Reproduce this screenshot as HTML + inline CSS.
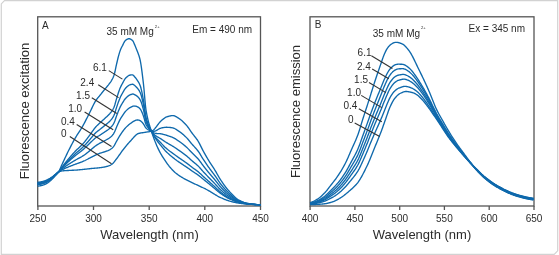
<!DOCTYPE html>
<html><head><meta charset="utf-8"><style>
html,body{margin:0;padding:0;background:#fff;}
body{width:559px;height:255px;overflow:hidden;position:relative;}
svg{position:absolute;left:0;top:0;will-change:transform;}
text{font-family:"Liberation Sans",sans-serif;fill:#2b2b2b;}
</style></head><body>
<svg width="559" height="255" viewBox="0 0 559 255">
<path d="M4.5,0.7 L557.7,0.7 L557.7,250.8 L554.2,254.3 L1.3,254.3 L1.3,3.9 Z" fill="none" stroke="#d2d2d2" stroke-width="1.2"/>
<g fill="none" stroke="#555" stroke-width="1.3">
<rect x="37.7" y="16.8" width="222.8" height="189.2"/>
<rect x="310" y="16.8" width="224" height="189.2"/>
<line x1="37.9" y1="206" x2="37.9" y2="210"/><line x1="93.5" y1="206" x2="93.5" y2="210"/><line x1="149.2" y1="206" x2="149.2" y2="210"/><line x1="204.8" y1="206" x2="204.8" y2="210"/><line x1="260.5" y1="206" x2="260.5" y2="210"/>
<line x1="310.1" y1="206" x2="310.1" y2="210"/><line x1="354.9" y1="206" x2="354.9" y2="210"/><line x1="399.7" y1="206" x2="399.7" y2="210"/><line x1="444.4" y1="206" x2="444.4" y2="210"/><line x1="489.2" y1="206" x2="489.2" y2="210"/><line x1="534.0" y1="206" x2="534.0" y2="210"/>
</g>
<g fill="none" stroke="#0f69ac" stroke-width="1.35" stroke-linejoin="round">
<path d="M37.50,182.30 L38.00,182.26 L38.50,182.21 L39.00,182.14 L39.50,182.07 L40.00,181.99 L40.50,181.90 L41.00,181.80 L41.50,181.70 L42.00,181.60 L42.50,181.49 L43.00,181.36 L43.50,181.21 L44.00,181.05 L44.50,180.89 L45.00,180.71 L45.50,180.52 L46.00,180.32 L46.50,180.11 L47.00,179.90 L47.50,179.68 L48.00,179.43 L48.50,179.17 L49.00,178.89 L49.50,178.60 L50.00,178.30 L50.50,177.98 L51.00,177.66 L51.50,177.33 L52.00,177.00 L52.50,176.65 L53.00,176.28 L53.50,175.89 L54.00,175.49 L54.50,175.09 L55.00,174.69 L55.50,174.30 L56.00,173.89 L56.50,173.46 L57.00,173.03 L57.50,172.63 L58.00,172.27 L58.50,172.00 L59.00,171.78 L59.50,171.58 L60.00,171.39 L60.50,171.23 L61.00,171.09 L61.50,170.98 L62.00,170.90 L62.50,170.84 L63.00,170.80 L63.50,170.75 L64.00,170.71 L64.50,170.68 L65.00,170.65 L65.50,170.62 L66.00,170.60 L66.50,170.57 L67.00,170.54 L67.50,170.52 L68.00,170.49 L68.50,170.46 L69.00,170.43 L69.50,170.41 L70.00,170.39 L70.50,170.36 L71.00,170.34 L71.50,170.32 L72.00,170.29 L72.50,170.27 L73.00,170.25 L73.50,170.22 L74.00,170.20 L74.50,170.17 L75.00,170.14 L75.50,170.11 L76.00,170.08 L76.50,170.05 L77.00,170.01 L77.50,169.97 L78.00,169.93 L78.50,169.88 L79.00,169.84 L79.50,169.79 L80.00,169.75 L80.50,169.70 L81.00,169.65 L81.50,169.60 L82.00,169.55 L82.50,169.50 L83.00,169.45 L83.50,169.40 L84.00,169.35 L84.50,169.29 L85.00,169.24 L85.50,169.18 L86.00,169.12 L86.50,169.06 L87.00,169.00 L87.50,168.94 L88.00,168.88 L88.50,168.82 L89.00,168.76 L89.50,168.71 L90.00,168.65 L90.50,168.59 L91.00,168.54 L91.50,168.49 L92.00,168.44 L92.50,168.40 L93.00,168.35 L93.50,168.31 L94.00,168.27 L94.50,168.23 L95.00,168.19 L95.50,168.15 L96.00,168.11 L96.50,168.07 L97.00,168.03 L97.50,167.98 L98.00,167.93 L98.50,167.88 L99.00,167.82 L99.50,167.76 L100.00,167.70 L100.50,167.64 L101.00,167.57 L101.50,167.50 L102.00,167.42 L102.50,167.34 L103.00,167.26 L103.50,167.17 L104.00,167.08 L104.50,166.98 L105.00,166.87 L105.50,166.77 L106.00,166.65 L106.50,166.53 L107.00,166.40 L107.50,166.26 L108.00,166.10 L108.50,165.93 L109.00,165.74 L109.50,165.53 L110.00,165.30 L110.50,165.05 L111.00,164.78 L111.50,164.49 L112.00,164.16 L112.50,163.76 L113.00,163.28 L113.50,162.73 L114.00,162.13 L114.50,161.49 L115.00,160.83 L115.50,160.17 L116.00,159.51 L116.50,158.87 L117.00,158.23 L117.50,157.57 L118.00,156.88 L118.50,156.18 L119.00,155.47 L119.50,154.75 L120.00,154.03 L120.50,153.31 L121.00,152.60 L121.50,151.89 L122.00,151.20 L122.50,150.52 L123.00,149.86 L123.50,149.22 L124.00,148.58 L124.50,147.96 L125.00,147.33 L125.50,146.71 L126.00,146.10 L126.50,145.50 L127.00,144.90 L127.50,144.31 L128.00,143.73 L128.50,143.16 L129.00,142.60 L129.50,142.06 L130.00,141.52 L130.50,140.99 L131.00,140.44 L131.50,139.88 L132.00,139.31 L132.50,138.73 L133.00,138.15 L133.50,137.57 L134.00,137.01 L134.50,136.47 L135.00,135.95 L135.50,135.46 L136.00,135.01 L136.50,134.60 L137.00,134.24 L137.50,133.93 L138.00,133.68 L138.50,133.50 L139.00,133.36 L139.50,133.24 L140.00,133.13 L140.50,133.03 L141.00,132.94 L141.50,132.86 L142.00,132.78 L142.50,132.71 L143.00,132.64 L143.50,132.57 L144.00,132.49 L144.50,132.42 L145.00,132.33 L145.50,132.25 L146.00,132.17 L146.50,132.09 L147.00,132.02 L147.50,131.95 L148.00,131.88 L148.50,131.80 L149.00,131.72 L149.50,131.64 L150.00,131.54 L150.50,131.43 L151.00,131.31 L151.50,131.17 L152.00,130.97 L152.50,130.69 L153.00,130.34 L153.50,129.93 L154.00,129.46 L154.50,128.94 L155.00,128.38 L155.50,127.78 L156.00,127.16 L156.50,126.51 L157.00,125.85 L157.50,125.18 L158.00,124.51 L158.50,123.85 L159.00,123.20 L159.50,122.58 L160.00,121.98 L160.50,121.41 L161.00,120.89 L161.50,120.42 L162.00,120.00 L162.50,119.61 L163.00,119.22 L163.50,118.84 L164.00,118.46 L164.50,118.11 L165.00,117.78 L165.50,117.47 L166.00,117.21 L166.50,116.98 L167.00,116.80 L167.50,116.65 L168.00,116.50 L168.50,116.35 L169.00,116.21 L169.50,116.09 L170.00,115.97 L170.50,115.86 L171.00,115.77 L171.50,115.70 L172.00,115.65 L172.50,115.61 L173.00,115.60 L173.50,115.63 L174.00,115.73 L174.50,115.88 L175.00,116.07 L175.50,116.31 L176.00,116.58 L176.50,116.88 L177.00,117.19 L177.50,117.52 L178.00,117.85 L178.50,118.18 L179.00,118.50 L179.50,118.82 L180.00,119.17 L180.50,119.54 L181.00,119.94 L181.50,120.35 L182.00,120.78 L182.50,121.23 L183.00,121.70 L183.50,122.18 L184.00,122.67 L184.50,123.18 L185.00,123.71 L185.50,124.24 L186.00,124.78 L186.50,125.34 L187.00,125.94 L187.50,126.58 L188.00,127.25 L188.50,127.95 L189.00,128.67 L189.50,129.40 L190.00,130.13 L190.50,130.87 L191.00,131.60 L191.50,132.31 L192.00,133.00 L192.50,133.67 L193.00,134.32 L193.50,134.95 L194.00,135.58 L194.50,136.21 L195.00,136.84 L195.50,137.48 L196.00,138.13 L196.50,138.80 L197.00,139.50 L197.50,140.23 L198.00,141.00 L198.50,141.82 L199.00,142.70 L199.50,143.63 L200.00,144.59 L200.50,145.58 L201.00,146.59 L201.50,147.60 L202.00,148.61 L202.50,149.60 L203.00,150.57 L203.50,151.50 L204.00,152.40 L204.50,153.30 L205.00,154.19 L205.50,155.07 L206.00,155.94 L206.50,156.80 L207.00,157.66 L207.50,158.51 L208.00,159.35 L208.50,160.18 L209.00,161.00 L209.50,161.81 L210.00,162.60 L210.50,163.38 L211.00,164.14 L211.50,164.90 L212.00,165.66 L212.50,166.42 L213.00,167.17 L213.50,167.94 L214.00,168.71 L214.50,169.50 L215.00,170.30 L215.50,171.13 L216.00,171.97 L216.50,172.84 L217.00,173.72 L217.50,174.61 L218.00,175.50 L218.50,176.38 L219.00,177.25 L219.50,178.10 L220.00,178.93 L220.50,179.74 L221.00,180.50 L221.50,181.24 L222.00,181.97 L222.50,182.70 L223.00,183.42 L223.50,184.12 L224.00,184.82 L224.50,185.50 L225.00,186.17 L225.50,186.84 L226.00,187.48 L226.50,188.12 L227.00,188.74 L227.50,189.34 L228.00,189.93 L228.50,190.51 L229.00,191.07 L229.50,191.61 L230.00,192.14 L230.50,192.68 L231.00,193.21 L231.50,193.74 L232.00,194.27 L232.50,194.79 L233.00,195.30 L233.50,195.80 L234.00,196.29 L234.50,196.77 L235.00,197.23 L235.50,197.67 L236.00,198.10 L236.50,198.51 L237.00,198.89 L237.50,199.26 L238.00,199.60 L238.50,199.91 L239.00,200.19 L239.50,200.45 L240.00,200.70 L240.50,200.94 L241.00,201.17 L241.50,201.40 L242.00,201.61 L242.50,201.81 L243.00,202.01 L243.50,202.19 L244.00,202.37 L244.50,202.53 L245.00,202.68 L245.50,202.83 L246.00,202.96 L246.50,203.09 L247.00,203.20 L247.50,203.31 L248.00,203.41 L248.50,203.50 L249.00,203.60 L249.50,203.69 L250.00,203.77 L250.50,203.85 L251.00,203.93 L251.50,204.00 L252.00,204.07 L252.50,204.13 L253.00,204.20 L253.50,204.25 L254.00,204.31 L254.50,204.36 L255.00,204.41 L255.50,204.46 L256.00,204.50 L256.50,204.54 L257.00,204.59 L257.50,204.63 L258.00,204.66 L258.50,204.70 L259.00,204.73 L259.50,204.75 L260.00,204.78 L260.50,204.80"/>
<path d="M37.50,183.00 L38.00,182.96 L38.50,182.91 L39.00,182.84 L39.50,182.77 L40.00,182.69 L40.50,182.59 L41.00,182.50 L41.50,182.39 L42.00,182.28 L42.50,182.17 L43.00,182.03 L43.50,181.88 L44.00,181.72 L44.50,181.54 L45.00,181.36 L45.50,181.16 L46.00,180.95 L46.50,180.73 L47.00,180.51 L47.50,180.27 L48.00,180.02 L48.50,179.74 L49.00,179.44 L49.50,179.13 L50.00,178.80 L50.50,178.47 L51.00,178.12 L51.50,177.77 L52.00,177.41 L52.50,177.04 L53.00,176.64 L53.50,176.23 L54.00,175.80 L54.50,175.37 L55.00,174.94 L55.50,174.52 L56.00,174.08 L56.50,173.64 L57.00,173.19 L57.50,172.75 L58.00,172.35 L58.50,172.00 L59.00,171.67 L59.50,171.33 L60.00,170.98 L60.50,170.64 L61.00,170.31 L61.50,170.01 L62.00,169.75 L62.50,169.51 L63.00,169.27 L63.50,169.04 L64.00,168.81 L64.50,168.59 L65.00,168.37 L65.50,168.15 L66.00,167.94 L66.50,167.73 L67.00,167.52 L67.50,167.31 L68.00,167.10 L68.50,166.90 L69.00,166.69 L69.50,166.49 L70.00,166.29 L70.50,166.09 L71.00,165.90 L71.50,165.70 L72.00,165.51 L72.50,165.31 L73.00,165.12 L73.50,164.93 L74.00,164.74 L74.50,164.56 L75.00,164.37 L75.50,164.19 L76.00,164.01 L76.50,163.83 L77.00,163.65 L77.50,163.47 L78.00,163.29 L78.50,163.12 L79.00,162.94 L79.50,162.76 L80.00,162.57 L80.50,162.39 L81.00,162.20 L81.50,162.01 L82.00,161.81 L82.50,161.61 L83.00,161.40 L83.50,161.19 L84.00,160.97 L84.50,160.75 L85.00,160.52 L85.50,160.27 L86.00,160.02 L86.50,159.76 L87.00,159.50 L87.50,159.24 L88.00,158.98 L88.50,158.71 L89.00,158.45 L89.50,158.19 L90.00,157.93 L90.50,157.65 L91.00,157.38 L91.50,157.11 L92.00,156.84 L92.50,156.57 L93.00,156.30 L93.50,156.04 L94.00,155.79 L94.50,155.54 L95.00,155.30 L95.50,155.06 L96.00,154.84 L96.50,154.63 L97.00,154.42 L97.50,154.22 L98.00,154.03 L98.50,153.83 L99.00,153.63 L99.50,153.43 L100.00,153.22 L100.50,153.08 L101.00,152.93 L101.50,152.78 L102.00,152.63 L102.50,152.47 L103.00,152.32 L103.50,152.16 L104.00,151.99 L104.50,151.83 L105.00,151.66 L105.50,151.49 L106.00,151.32 L106.50,151.14 L107.00,150.96 L107.50,150.77 L108.00,150.56 L108.50,150.33 L109.00,150.09 L109.50,149.83 L110.00,149.55 L110.50,149.25 L111.00,148.92 L111.50,148.57 L112.00,148.18 L112.50,147.72 L113.00,147.18 L113.50,146.56 L114.00,145.86 L114.50,145.08 L115.00,144.19 L115.50,143.24 L116.00,142.29 L116.50,141.40 L117.00,140.52 L117.50,139.63 L118.00,138.73 L118.50,137.85 L119.00,136.99 L119.50,136.14 L120.00,135.32 L120.50,134.53 L121.00,133.78 L121.50,133.06 L122.00,132.36 L122.50,131.68 L123.00,131.01 L123.50,130.34 L124.00,129.69 L124.50,129.06 L125.00,128.47 L125.50,127.92 L126.00,127.39 L126.50,126.88 L127.00,126.38 L127.50,125.90 L128.00,125.43 L128.50,124.99 L129.00,124.56 L129.50,124.16 L130.00,123.79 L130.50,123.44 L131.00,123.08 L131.50,122.71 L132.00,122.35 L132.50,121.98 L133.00,121.65 L133.50,121.33 L134.00,121.06 L134.50,120.81 L135.00,120.59 L135.50,120.38 L136.00,120.21 L136.50,120.08 L137.00,120.00 L137.50,119.97 L138.00,119.98 L138.50,120.05 L139.00,120.18 L139.50,120.36 L140.00,120.59 L140.50,120.84 L141.00,121.19 L141.50,121.64 L142.00,122.17 L142.50,122.75 L143.00,123.37 L143.50,124.01 L144.00,124.77 L144.50,125.69 L145.00,126.64 L145.50,127.49 L146.00,128.11 L146.50,128.55 L147.00,128.94 L147.50,129.30 L148.00,129.63 L148.50,129.92 L149.00,130.18 L149.50,130.42 L150.00,130.65 L150.50,130.85 L151.00,131.05 L151.50,131.24 L152.00,131.38 L152.50,131.45 L153.00,131.46 L153.50,131.42 L154.00,131.32 L154.50,131.19 L155.00,131.01 L155.50,130.81 L156.00,130.58 L156.50,130.33 L157.00,130.06 L157.50,129.79 L158.00,129.51 L158.50,129.23 L159.00,128.96 L159.50,128.71 L160.00,128.47 L160.50,128.26 L161.00,128.07 L161.50,127.92 L162.00,127.82 L162.50,127.73 L163.00,127.64 L163.50,127.56 L164.00,127.48 L164.50,127.42 L165.00,127.38 L165.50,127.31 L166.00,127.27 L166.50,127.25 L167.00,127.27 L167.50,127.31 L168.00,127.34 L168.50,127.38 L169.00,127.41 L169.50,127.45 L170.00,127.49 L170.50,127.54 L171.00,127.60 L171.50,127.67 L172.00,127.75 L172.50,127.84 L173.00,127.95 L173.50,128.09 L174.00,128.27 L174.50,128.49 L175.00,128.75 L175.50,129.03 L176.00,129.33 L176.50,129.65 L177.00,129.98 L177.50,130.32 L178.00,130.66 L178.50,130.99 L179.00,131.32 L179.50,131.65 L180.00,131.99 L180.50,132.35 L181.00,132.73 L181.50,133.12 L182.00,133.52 L182.50,133.94 L183.00,134.36 L183.50,134.80 L184.00,135.25 L184.50,135.71 L185.00,136.17 L185.50,136.65 L186.00,137.12 L186.50,137.61 L187.00,138.14 L187.50,138.69 L188.00,139.26 L188.50,139.86 L189.00,140.47 L189.50,141.09 L190.00,141.72 L190.50,142.34 L191.00,142.96 L191.50,143.57 L192.00,144.16 L192.50,144.73 L193.00,145.29 L193.50,145.83 L194.00,146.37 L194.50,146.91 L195.00,147.45 L195.50,148.00 L196.00,148.56 L196.50,149.14 L197.00,149.73 L197.50,150.35 L198.00,150.99 L198.50,151.68 L199.00,152.41 L199.50,153.18 L200.00,153.98 L200.50,154.80 L201.00,155.64 L201.50,156.48 L202.00,157.31 L202.50,158.13 L203.00,158.94 L203.50,159.71 L204.00,160.46 L204.50,161.21 L205.00,161.96 L205.50,162.70 L206.00,163.43 L206.50,164.16 L207.00,164.88 L207.50,165.60 L208.00,166.31 L208.50,167.02 L209.00,167.72 L209.50,168.41 L210.00,169.09 L210.50,169.76 L211.00,170.43 L211.50,171.08 L212.00,171.74 L212.50,172.40 L213.00,173.05 L213.50,173.72 L214.00,174.39 L214.50,175.07 L215.00,175.76 L215.50,176.46 L216.00,177.19 L216.50,177.93 L217.00,178.68 L217.50,179.43 L218.00,180.18 L218.50,180.92 L219.00,181.65 L219.50,182.37 L220.00,183.07 L220.50,183.74 L221.00,184.38 L221.50,185.01 L222.00,185.63 L222.50,186.24 L223.00,186.85 L223.50,187.44 L224.00,188.03 L224.50,188.61 L225.00,189.17 L225.50,189.73 L226.00,190.28 L226.50,190.81 L227.00,191.33 L227.50,191.84 L228.00,192.33 L228.50,192.81 L229.00,193.28 L229.50,193.73 L230.00,194.18 L230.50,194.62 L231.00,195.07 L231.50,195.51 L232.00,195.95 L232.50,196.38 L233.00,196.80 L233.50,197.22 L234.00,197.62 L234.50,198.02 L235.00,198.40 L235.50,198.77 L236.00,199.12 L236.50,199.46 L237.00,199.78 L237.50,200.08 L238.00,200.37 L238.50,200.63 L239.00,200.86 L239.50,201.08 L240.00,201.29 L240.50,201.49 L241.00,201.68 L241.50,201.87 L242.00,202.05 L242.50,202.22 L243.00,202.38 L243.50,202.54 L244.00,202.69 L244.50,202.83 L245.00,202.96 L245.50,203.08 L246.00,203.19 L246.50,203.30 L247.00,203.40 L247.50,203.49 L248.00,203.58 L248.50,203.66 L249.00,203.74 L249.50,203.82 L250.00,203.89 L250.50,203.96 L251.00,204.03 L251.50,204.09 L252.00,204.15 L252.50,204.21 L253.00,204.26 L253.50,204.31 L254.00,204.36 L254.50,204.41 L255.00,204.45 L255.50,204.49 L256.00,204.53 L256.50,204.57 L257.00,204.61 L257.50,204.64 L258.00,204.68 L258.50,204.71 L259.00,204.73 L259.50,204.76 L260.00,204.78 L260.50,204.80"/>
<path d="M37.50,183.51 L38.00,183.47 L38.50,183.42 L39.00,183.35 L39.50,183.27 L40.00,183.19 L40.50,183.09 L41.00,182.99 L41.50,182.89 L42.00,182.78 L42.50,182.66 L43.00,182.52 L43.50,182.37 L44.00,182.20 L44.50,182.02 L45.00,181.82 L45.50,181.62 L46.00,181.41 L46.50,181.18 L47.00,180.95 L47.50,180.71 L48.00,180.44 L48.50,180.15 L49.00,179.84 L49.50,179.51 L50.00,179.17 L50.50,178.82 L51.00,178.45 L51.50,178.09 L52.00,177.71 L52.50,177.32 L53.00,176.91 L53.50,176.47 L54.00,176.02 L54.50,175.57 L55.00,175.12 L55.50,174.67 L56.00,174.22 L56.50,173.76 L57.00,173.30 L57.50,172.84 L58.00,172.41 L58.50,172.00 L59.00,171.59 L59.50,171.15 L60.00,170.68 L60.50,170.21 L61.00,169.75 L61.50,169.31 L62.00,168.92 L62.50,168.54 L63.00,168.18 L63.50,167.81 L64.00,167.45 L64.50,167.09 L65.00,166.74 L65.50,166.39 L66.00,166.05 L66.50,165.70 L67.00,165.37 L67.50,165.03 L68.00,164.69 L68.50,164.37 L69.00,164.04 L69.50,163.72 L70.00,163.40 L70.50,163.08 L71.00,162.76 L71.50,162.45 L72.00,162.14 L72.50,161.83 L73.00,161.52 L73.50,161.22 L74.00,160.92 L74.50,160.63 L75.00,160.33 L75.50,160.05 L76.00,159.77 L76.50,159.49 L77.00,159.22 L77.50,158.95 L78.00,158.68 L78.50,158.42 L79.00,158.15 L79.50,157.88 L80.00,157.61 L80.50,157.33 L81.00,157.05 L81.50,156.77 L82.00,156.47 L82.50,156.17 L83.00,155.86 L83.50,155.54 L84.00,155.22 L84.50,154.89 L85.00,154.55 L85.50,154.16 L86.00,153.77 L86.50,153.37 L87.00,152.97 L87.50,152.56 L88.00,152.16 L88.50,151.75 L89.00,151.35 L89.50,150.94 L90.00,150.52 L90.50,150.10 L91.00,149.67 L91.50,149.24 L92.00,148.81 L92.50,148.38 L93.00,147.95 L93.50,147.53 L94.00,147.12 L94.50,146.72 L95.00,146.33 L95.50,145.96 L96.00,145.60 L96.50,145.26 L97.00,144.94 L97.50,144.62 L98.00,144.32 L98.50,144.02 L99.00,143.71 L99.50,143.40 L100.00,143.08 L100.50,142.84 L101.00,142.59 L101.50,142.34 L102.00,142.09 L102.50,141.83 L103.00,141.58 L103.50,141.32 L104.00,141.06 L104.50,140.79 L105.00,140.53 L105.50,140.26 L106.00,140.00 L106.50,139.73 L107.00,139.46 L107.50,139.17 L108.00,138.87 L108.50,138.55 L109.00,138.22 L109.50,137.86 L110.00,137.49 L110.50,137.10 L111.00,136.68 L111.50,136.23 L112.00,135.74 L112.50,135.17 L113.00,134.53 L113.50,133.79 L114.00,132.97 L114.50,132.01 L115.00,130.87 L115.50,129.64 L116.00,128.40 L116.50,127.23 L117.00,126.09 L117.50,124.95 L118.00,123.81 L118.50,122.71 L119.00,121.66 L119.50,120.64 L120.00,119.67 L120.50,118.75 L121.00,117.89 L121.50,117.09 L122.00,116.32 L122.50,115.56 L123.00,114.80 L123.50,114.05 L124.00,113.31 L124.50,112.60 L125.00,111.96 L125.50,111.39 L126.00,110.87 L126.50,110.37 L127.00,109.88 L127.50,109.41 L128.00,108.97 L128.50,108.56 L129.00,108.19 L129.50,107.85 L130.00,107.55 L130.50,107.29 L131.00,107.03 L131.50,106.78 L132.00,106.53 L132.50,106.30 L133.00,106.13 L133.50,106.05 L134.00,106.04 L134.50,106.08 L135.00,106.13 L135.50,106.18 L136.00,106.27 L136.50,106.41 L137.00,106.60 L137.50,106.83 L138.00,107.08 L138.50,107.40 L139.00,107.78 L139.50,108.24 L140.00,108.80 L140.50,109.42 L141.00,110.24 L141.50,111.23 L142.00,112.36 L142.50,113.58 L143.00,114.87 L143.50,116.20 L144.00,117.76 L144.50,119.61 L145.00,121.51 L145.50,123.22 L146.00,124.48 L146.50,125.39 L147.00,126.22 L147.50,126.97 L148.00,127.65 L148.50,128.27 L149.00,128.84 L149.50,129.37 L150.00,129.87 L150.50,130.35 L151.00,130.82 L151.50,131.29 L152.00,131.72 L152.50,132.09 L153.00,132.41 L153.50,132.67 L154.00,132.89 L154.50,133.07 L155.00,133.21 L155.50,133.32 L156.00,133.41 L156.50,133.47 L157.00,133.52 L157.50,133.55 L158.00,133.58 L158.50,133.60 L159.00,133.63 L159.50,133.65 L160.00,133.69 L160.50,133.74 L161.00,133.81 L161.50,133.90 L162.00,134.02 L162.50,134.15 L163.00,134.28 L163.50,134.41 L164.00,134.54 L164.50,134.69 L165.00,134.85 L165.50,134.96 L166.00,135.09 L166.50,135.24 L167.00,135.42 L167.50,135.60 L168.00,135.78 L168.50,135.95 L169.00,136.12 L169.50,136.29 L170.00,136.46 L170.50,136.63 L171.00,136.80 L171.50,136.98 L172.00,137.17 L172.50,137.36 L173.00,137.56 L173.50,137.78 L174.00,138.03 L174.50,138.31 L175.00,138.61 L175.50,138.92 L176.00,139.25 L176.50,139.58 L177.00,139.93 L177.50,140.28 L178.00,140.62 L178.50,140.96 L179.00,141.29 L179.50,141.62 L180.00,141.96 L180.50,142.31 L181.00,142.68 L181.50,143.05 L182.00,143.43 L182.50,143.82 L183.00,144.22 L183.50,144.62 L184.00,145.03 L184.50,145.45 L185.00,145.87 L185.50,146.30 L186.00,146.72 L186.50,147.16 L187.00,147.62 L187.50,148.11 L188.00,148.61 L188.50,149.12 L189.00,149.65 L189.50,150.19 L190.00,150.73 L190.50,151.26 L191.00,151.80 L191.50,152.33 L192.00,152.84 L192.50,153.34 L193.00,153.82 L193.50,154.30 L194.00,154.77 L194.50,155.24 L195.00,155.71 L195.50,156.19 L196.00,156.67 L196.50,157.17 L197.00,157.68 L197.50,158.21 L198.00,158.77 L198.50,159.35 L199.00,159.97 L199.50,160.62 L200.00,161.29 L200.50,161.98 L201.00,162.67 L201.50,163.38 L202.00,164.08 L202.50,164.77 L203.00,165.44 L203.50,166.09 L204.00,166.73 L204.50,167.37 L205.00,168.00 L205.50,168.63 L206.00,169.26 L206.50,169.88 L207.00,170.49 L207.50,171.11 L208.00,171.72 L208.50,172.33 L209.00,172.94 L209.50,173.55 L210.00,174.14 L210.50,174.73 L211.00,175.31 L211.50,175.89 L212.00,176.47 L212.50,177.05 L213.00,177.63 L213.50,178.21 L214.00,178.80 L214.50,179.40 L215.00,180.00 L215.50,180.62 L216.00,181.24 L216.50,181.88 L217.00,182.53 L217.50,183.17 L218.00,183.81 L218.50,184.45 L219.00,185.07 L219.50,185.69 L220.00,186.28 L220.50,186.85 L221.00,187.40 L221.50,187.94 L222.00,188.47 L222.50,189.00 L223.00,189.51 L223.50,190.02 L224.00,190.53 L224.50,191.02 L225.00,191.51 L225.50,191.98 L226.00,192.45 L226.50,192.90 L227.00,193.35 L227.50,193.78 L228.00,194.20 L228.50,194.61 L229.00,195.00 L229.50,195.38 L230.00,195.76 L230.50,196.14 L231.00,196.51 L231.50,196.88 L232.00,197.25 L232.50,197.61 L233.00,197.97 L233.50,198.32 L234.00,198.66 L234.50,198.99 L235.00,199.31 L235.50,199.62 L236.00,199.92 L236.50,200.20 L237.00,200.47 L237.50,200.73 L238.00,200.96 L238.50,201.18 L239.00,201.39 L239.50,201.57 L240.00,201.75 L240.50,201.92 L241.00,202.08 L241.50,202.24 L242.00,202.39 L242.50,202.54 L243.00,202.68 L243.50,202.81 L244.00,202.94 L244.50,203.05 L245.00,203.17 L245.50,203.27 L246.00,203.37 L246.50,203.47 L247.00,203.55 L247.50,203.63 L248.00,203.71 L248.50,203.78 L249.00,203.85 L249.50,203.92 L250.00,203.98 L250.50,204.04 L251.00,204.10 L251.50,204.16 L252.00,204.21 L252.50,204.26 L253.00,204.31 L253.50,204.36 L254.00,204.40 L254.50,204.44 L255.00,204.48 L255.50,204.52 L256.00,204.56 L256.50,204.59 L257.00,204.63 L257.50,204.66 L258.00,204.69 L258.50,204.72 L259.00,204.74 L259.50,204.76 L260.00,204.78 L260.50,204.80"/>
<path d="M37.50,184.06 L38.00,184.01 L38.50,183.96 L39.00,183.89 L39.50,183.82 L40.00,183.73 L40.50,183.63 L41.00,183.53 L41.50,183.42 L42.00,183.31 L42.50,183.19 L43.00,183.05 L43.50,182.89 L44.00,182.72 L44.50,182.53 L45.00,182.33 L45.50,182.12 L46.00,181.90 L46.50,181.67 L47.00,181.43 L47.50,181.17 L48.00,180.89 L48.50,180.59 L49.00,180.26 L49.50,179.92 L50.00,179.56 L50.50,179.19 L51.00,178.81 L51.50,178.43 L52.00,178.04 L52.50,177.63 L53.00,177.19 L53.50,176.73 L54.00,176.26 L54.50,175.79 L55.00,175.31 L55.50,174.84 L56.00,174.37 L56.50,173.90 L57.00,173.42 L57.50,172.94 L58.00,172.47 L58.50,172.00 L59.00,171.50 L59.50,170.95 L60.00,170.36 L60.50,169.75 L61.00,169.15 L61.50,168.56 L62.00,168.02 L62.50,167.50 L63.00,166.99 L63.50,166.48 L64.00,165.97 L64.50,165.47 L65.00,164.97 L65.50,164.47 L66.00,163.98 L66.50,163.50 L67.00,163.02 L67.50,162.54 L68.00,162.07 L68.50,161.60 L69.00,161.14 L69.50,160.68 L70.00,160.22 L70.50,159.77 L71.00,159.32 L71.50,158.87 L72.00,158.43 L72.50,157.99 L73.00,157.55 L73.50,157.12 L74.00,156.70 L74.50,156.28 L75.00,155.87 L75.50,155.46 L76.00,155.07 L76.50,154.68 L77.00,154.30 L77.50,153.93 L78.00,153.55 L78.50,153.18 L79.00,152.81 L79.50,152.44 L80.00,152.06 L80.50,151.68 L81.00,151.29 L81.50,150.90 L82.00,150.49 L82.50,150.07 L83.00,149.64 L83.50,149.20 L84.00,148.75 L84.50,148.29 L85.00,147.82 L85.50,147.36 L86.00,146.88 L86.50,146.41 L87.00,145.93 L87.50,145.46 L88.00,144.98 L88.50,144.51 L89.00,144.04 L89.50,143.57 L90.00,143.09 L90.50,142.59 L91.00,142.10 L91.50,141.60 L92.00,141.11 L92.50,140.62 L93.00,140.13 L93.50,139.66 L94.00,139.20 L94.50,138.76 L95.00,138.34 L95.50,137.94 L96.00,137.56 L96.50,137.21 L97.00,136.89 L97.50,136.58 L98.00,136.29 L98.50,136.00 L99.00,135.72 L99.50,135.42 L100.00,135.12 L100.50,134.80 L101.00,134.47 L101.50,134.14 L102.00,133.81 L102.50,133.48 L103.00,133.14 L103.50,132.81 L104.00,132.47 L104.50,132.13 L105.00,131.79 L105.50,131.45 L106.00,131.11 L106.50,130.77 L107.00,130.43 L107.50,130.08 L108.00,129.71 L108.50,129.32 L109.00,128.91 L109.50,128.48 L110.00,128.04 L110.50,127.58 L111.00,127.08 L111.50,126.55 L112.00,125.98 L112.50,125.33 L113.00,124.61 L113.50,123.79 L114.00,122.86 L114.50,121.77 L115.00,120.44 L115.50,118.98 L116.00,117.51 L116.50,116.12 L117.00,114.80 L117.50,113.45 L118.00,112.13 L118.50,110.86 L119.00,109.66 L119.50,108.51 L120.00,107.41 L120.50,106.39 L121.00,105.45 L121.50,104.59 L122.00,103.76 L122.50,102.95 L123.00,102.13 L123.50,101.30 L124.00,100.49 L124.50,99.73 L125.00,99.04 L125.50,98.46 L126.00,97.95 L126.50,97.45 L127.00,96.97 L127.50,96.52 L128.00,96.11 L128.50,95.73 L129.00,95.39 L129.50,95.11 L130.00,94.87 L130.50,94.67 L131.00,94.49 L131.50,94.33 L132.00,94.18 L132.50,94.04 L133.00,94.00 L133.50,94.10 L134.00,94.31 L134.50,94.57 L135.00,94.83 L135.50,95.08 L136.00,95.39 L136.50,95.74 L137.00,96.14 L137.50,96.56 L138.00,97.01 L138.50,97.51 L139.00,98.09 L139.50,98.77 L140.00,99.58 L140.50,100.46 L141.00,101.62 L141.50,103.01 L142.00,104.58 L142.50,106.29 L143.00,108.09 L143.50,109.94 L144.00,112.12 L144.50,114.70 L145.00,117.36 L145.50,119.75 L146.00,121.52 L146.50,122.81 L147.00,123.98 L147.50,125.04 L148.00,126.01 L148.50,126.90 L149.00,127.72 L149.50,128.49 L150.00,129.22 L150.50,129.93 L151.00,130.63 L151.50,131.34 L152.00,132.02 L152.50,132.64 L153.00,133.21 L153.50,133.74 L154.00,134.23 L154.50,134.68 L155.00,135.11 L155.50,135.50 L156.00,135.86 L156.50,136.21 L157.00,136.54 L157.50,136.85 L158.00,137.16 L158.50,137.46 L159.00,137.75 L159.50,138.04 L160.00,138.33 L160.50,138.63 L161.00,138.93 L161.50,139.25 L162.00,139.59 L162.50,139.94 L163.00,140.28 L163.50,140.62 L164.00,140.96 L164.50,141.31 L165.00,141.67 L165.50,141.96 L166.00,142.25 L166.50,142.55 L167.00,142.86 L167.50,143.18 L168.00,143.49 L168.50,143.79 L169.00,144.09 L169.50,144.38 L170.00,144.66 L170.50,144.94 L171.00,145.21 L171.50,145.49 L172.00,145.77 L172.50,146.06 L173.00,146.34 L173.50,146.64 L174.00,146.95 L174.50,147.28 L175.00,147.62 L175.50,147.96 L176.00,148.31 L176.50,148.67 L177.00,149.02 L177.50,149.38 L178.00,149.73 L178.50,150.07 L179.00,150.41 L179.50,150.74 L180.00,151.08 L180.50,151.42 L181.00,151.77 L181.50,152.13 L182.00,152.49 L182.50,152.86 L183.00,153.23 L183.50,153.60 L184.00,153.98 L184.50,154.36 L185.00,154.74 L185.50,155.12 L186.00,155.50 L186.50,155.89 L187.00,156.30 L187.50,156.72 L188.00,157.15 L188.50,157.59 L189.00,158.05 L189.50,158.50 L190.00,158.96 L190.50,159.42 L191.00,159.88 L191.50,160.33 L192.00,160.77 L192.50,161.20 L193.00,161.62 L193.50,162.04 L194.00,162.45 L194.50,162.85 L195.00,163.26 L195.50,163.68 L196.00,164.09 L196.50,164.52 L197.00,164.96 L197.50,165.41 L198.00,165.87 L198.50,166.36 L199.00,166.88 L199.50,167.41 L200.00,167.97 L200.50,168.53 L201.00,169.11 L201.50,169.69 L202.00,170.26 L202.50,170.83 L203.00,171.39 L203.50,171.93 L204.00,172.47 L204.50,173.00 L205.00,173.53 L205.50,174.06 L206.00,174.58 L206.50,175.11 L207.00,175.63 L207.50,176.15 L208.00,176.67 L208.50,177.20 L209.00,177.72 L209.50,178.24 L210.00,178.76 L210.50,179.27 L211.00,179.78 L211.50,180.28 L212.00,180.79 L212.50,181.30 L213.00,181.81 L213.50,182.32 L214.00,182.83 L214.50,183.35 L215.00,183.88 L215.50,184.41 L216.00,184.95 L216.50,185.50 L217.00,186.05 L217.50,186.60 L218.00,187.14 L218.50,187.68 L219.00,188.20 L219.50,188.72 L220.00,189.22 L220.50,189.70 L221.00,190.17 L221.50,190.62 L222.00,191.07 L222.50,191.52 L223.00,191.95 L223.50,192.39 L224.00,192.81 L224.50,193.23 L225.00,193.64 L225.50,194.04 L226.00,194.43 L226.50,194.82 L227.00,195.19 L227.50,195.55 L228.00,195.90 L228.50,196.24 L229.00,196.57 L229.50,196.89 L230.00,197.21 L230.50,197.52 L231.00,197.83 L231.50,198.14 L232.00,198.45 L232.50,198.75 L233.00,199.04 L233.50,199.33 L234.00,199.61 L234.50,199.88 L235.00,200.15 L235.50,200.40 L236.00,200.65 L236.50,200.88 L237.00,201.11 L237.50,201.32 L238.00,201.51 L238.50,201.69 L239.00,201.86 L239.50,202.02 L240.00,202.16 L240.50,202.31 L241.00,202.44 L241.50,202.58 L242.00,202.70 L242.50,202.83 L243.00,202.94 L243.50,203.06 L244.00,203.16 L244.50,203.26 L245.00,203.36 L245.50,203.45 L246.00,203.54 L246.50,203.62 L247.00,203.69 L247.50,203.76 L248.00,203.83 L248.50,203.89 L249.00,203.95 L249.50,204.01 L250.00,204.07 L250.50,204.12 L251.00,204.17 L251.50,204.22 L252.00,204.27 L252.50,204.31 L253.00,204.36 L253.50,204.40 L254.00,204.44 L254.50,204.48 L255.00,204.51 L255.50,204.55 L256.00,204.58 L256.50,204.61 L257.00,204.64 L257.50,204.67 L258.00,204.70 L258.50,204.72 L259.00,204.75 L259.50,204.77 L260.00,204.78 L260.50,204.80"/>
<path d="M37.50,184.29 L38.00,184.25 L38.50,184.19 L39.00,184.13 L39.50,184.05 L40.00,183.96 L40.50,183.86 L41.00,183.76 L41.50,183.65 L42.00,183.54 L42.50,183.41 L43.00,183.27 L43.50,183.11 L44.00,182.94 L44.50,182.75 L45.00,182.55 L45.50,182.33 L46.00,182.11 L46.50,181.88 L47.00,181.63 L47.50,181.37 L48.00,181.09 L48.50,180.78 L49.00,180.45 L49.50,180.10 L50.00,179.73 L50.50,179.35 L51.00,178.97 L51.50,178.57 L52.00,178.17 L52.50,177.76 L53.00,177.31 L53.50,176.85 L54.00,176.37 L54.50,175.88 L55.00,175.39 L55.50,174.91 L56.00,174.43 L56.50,173.95 L57.00,173.47 L57.50,172.98 L58.00,172.49 L58.50,172.00 L59.00,171.47 L59.50,170.87 L60.00,170.22 L60.50,169.56 L61.00,168.89 L61.50,168.24 L62.00,167.64 L62.50,167.06 L63.00,166.49 L63.50,165.91 L64.00,165.35 L64.50,164.78 L65.00,164.22 L65.50,163.66 L66.00,163.11 L66.50,162.57 L67.00,162.02 L67.50,161.49 L68.00,160.96 L68.50,160.43 L69.00,159.92 L69.50,159.40 L70.00,158.89 L70.50,158.38 L71.00,157.87 L71.50,157.37 L72.00,156.87 L72.50,156.38 L73.00,155.89 L73.50,155.41 L74.00,154.94 L74.50,154.47 L75.00,154.01 L75.50,153.55 L76.00,153.11 L76.50,152.68 L77.00,152.26 L77.50,151.84 L78.00,151.43 L78.50,151.02 L79.00,150.61 L79.50,150.19 L80.00,149.78 L80.50,149.35 L81.00,148.92 L81.50,148.48 L82.00,148.03 L82.50,147.57 L83.00,147.09 L83.50,146.60 L84.00,146.10 L84.50,145.59 L85.00,145.08 L85.50,144.52 L86.00,143.96 L86.50,143.39 L87.00,142.82 L87.50,142.25 L88.00,141.68 L88.50,141.11 L89.00,140.54 L89.50,139.97 L90.00,139.38 L90.50,138.79 L91.00,138.18 L91.50,137.58 L92.00,136.97 L92.50,136.36 L93.00,135.77 L93.50,135.18 L94.00,134.61 L94.50,134.06 L95.00,133.52 L95.50,133.01 L96.00,132.53 L96.50,132.08 L97.00,131.66 L97.50,131.26 L98.00,130.87 L98.50,130.49 L99.00,130.11 L99.50,129.73 L100.00,129.33 L100.50,128.94 L101.00,128.55 L101.50,128.15 L102.00,127.75 L102.50,127.35 L103.00,126.95 L103.50,126.54 L104.00,126.14 L104.50,125.73 L105.00,125.32 L105.50,124.92 L106.00,124.52 L106.50,124.12 L107.00,123.71 L107.50,123.29 L108.00,122.86 L108.50,122.41 L109.00,121.93 L109.50,121.44 L110.00,120.94 L110.50,120.41 L111.00,119.85 L111.50,119.25 L112.00,118.60 L112.50,117.89 L113.00,117.09 L113.50,116.20 L114.00,115.18 L114.50,113.97 L115.00,112.48 L115.50,110.85 L116.00,109.18 L116.50,107.62 L117.00,106.13 L117.50,104.62 L118.00,103.14 L118.50,101.73 L119.00,100.40 L119.50,99.13 L120.00,97.93 L120.50,96.82 L121.00,95.81 L121.50,94.88 L122.00,93.99 L122.50,93.13 L123.00,92.24 L123.50,91.34 L124.00,90.47 L124.50,89.65 L125.00,88.92 L125.50,88.31 L126.00,87.79 L126.50,87.29 L127.00,86.80 L127.50,86.35 L128.00,85.94 L128.50,85.57 L129.00,85.25 L129.50,84.99 L130.00,84.79 L130.50,84.63 L131.00,84.50 L131.50,84.40 L132.00,84.32 L132.50,84.25 L133.00,84.29 L133.50,84.55 L134.00,84.92 L134.50,85.36 L135.00,85.79 L135.50,86.21 L136.00,86.68 L136.50,87.19 L137.00,87.76 L137.50,88.35 L138.00,88.95 L138.50,89.60 L139.00,90.34 L139.50,91.20 L140.00,92.21 L140.50,93.30 L141.00,94.72 L141.50,96.42 L142.00,98.35 L142.50,100.44 L143.00,102.65 L143.50,104.92 L144.00,107.59 L144.50,110.76 L145.00,114.02 L145.50,116.96 L146.00,119.15 L146.50,120.74 L147.00,122.18 L147.50,123.50 L148.00,124.70 L148.50,125.80 L149.00,126.82 L149.50,127.79 L150.00,128.70 L150.50,129.60 L151.00,130.48 L151.50,131.38 L152.00,132.25 L152.50,133.08 L153.00,133.86 L153.50,134.61 L154.00,135.32 L154.50,135.99 L155.00,136.64 L155.50,137.26 L156.00,137.85 L156.50,138.43 L157.00,138.98 L157.50,139.53 L158.00,140.06 L158.50,140.58 L159.00,141.09 L159.50,141.59 L160.00,142.09 L160.50,142.59 L161.00,143.09 L161.50,143.60 L162.00,144.12 L162.50,144.64 L163.00,145.15 L163.50,145.66 L164.00,146.17 L164.50,146.69 L165.00,147.22 L165.50,147.64 L166.00,148.06 L166.50,148.48 L167.00,148.91 L167.50,149.34 L168.00,149.76 L168.50,150.16 L169.00,150.56 L169.50,150.94 L170.00,151.32 L170.50,151.68 L171.00,152.05 L171.50,152.41 L172.00,152.77 L172.50,153.13 L173.00,153.48 L173.50,153.83 L174.00,154.20 L174.50,154.57 L175.00,154.94 L175.50,155.31 L176.00,155.68 L176.50,156.05 L177.00,156.41 L177.50,156.77 L178.00,157.13 L178.50,157.48 L179.00,157.82 L179.50,158.15 L180.00,158.49 L180.50,158.82 L181.00,159.16 L181.50,159.51 L182.00,159.85 L182.50,160.20 L183.00,160.55 L183.50,160.90 L184.00,161.24 L184.50,161.59 L185.00,161.94 L185.50,162.29 L186.00,162.63 L186.50,162.98 L187.00,163.34 L187.50,163.71 L188.00,164.09 L188.50,164.48 L189.00,164.87 L189.50,165.26 L190.00,165.66 L190.50,166.05 L191.00,166.45 L191.50,166.84 L192.00,167.22 L192.50,167.60 L193.00,167.96 L193.50,168.33 L194.00,168.68 L194.50,169.04 L195.00,169.40 L195.50,169.76 L196.00,170.12 L196.50,170.49 L197.00,170.86 L197.50,171.25 L198.00,171.65 L198.50,172.06 L199.00,172.49 L199.50,172.94 L200.00,173.39 L200.50,173.86 L201.00,174.34 L201.50,174.81 L202.00,175.29 L202.50,175.76 L203.00,176.22 L203.50,176.68 L204.00,177.12 L204.50,177.57 L205.00,178.02 L205.50,178.46 L206.00,178.91 L206.50,179.35 L207.00,179.80 L207.50,180.25 L208.00,180.70 L208.50,181.15 L209.00,181.60 L209.50,182.05 L210.00,182.51 L210.50,182.96 L211.00,183.41 L211.50,183.86 L212.00,184.30 L212.50,184.75 L213.00,185.21 L213.50,185.66 L214.00,186.11 L214.50,186.57 L215.00,187.03 L215.50,187.50 L216.00,187.97 L216.50,188.44 L217.00,188.91 L217.50,189.38 L218.00,189.84 L218.50,190.30 L219.00,190.75 L219.50,191.18 L220.00,191.60 L220.50,192.01 L221.00,192.41 L221.50,192.80 L222.00,193.18 L222.50,193.56 L223.00,193.94 L223.50,194.30 L224.00,194.67 L224.50,195.02 L225.00,195.37 L225.50,195.71 L226.00,196.04 L226.50,196.37 L227.00,196.69 L227.50,196.99 L228.00,197.29 L228.50,197.58 L229.00,197.85 L229.50,198.12 L230.00,198.38 L230.50,198.64 L231.00,198.90 L231.50,199.16 L232.00,199.41 L232.50,199.66 L233.00,199.91 L233.50,200.15 L234.00,200.38 L234.50,200.61 L235.00,200.83 L235.50,201.04 L236.00,201.24 L236.50,201.43 L237.00,201.62 L237.50,201.79 L238.00,201.96 L238.50,202.11 L239.00,202.25 L239.50,202.38 L240.00,202.50 L240.50,202.62 L241.00,202.74 L241.50,202.85 L242.00,202.96 L242.50,203.06 L243.00,203.16 L243.50,203.26 L244.00,203.35 L244.50,203.44 L245.00,203.52 L245.50,203.60 L246.00,203.67 L246.50,203.74 L247.00,203.80 L247.50,203.87 L248.00,203.92 L248.50,203.98 L249.00,204.03 L249.50,204.09 L250.00,204.14 L250.50,204.18 L251.00,204.23 L251.50,204.27 L252.00,204.32 L252.50,204.36 L253.00,204.40 L253.50,204.43 L254.00,204.47 L254.50,204.50 L255.00,204.54 L255.50,204.57 L256.00,204.60 L256.50,204.63 L257.00,204.66 L257.50,204.68 L258.00,204.71 L258.50,204.73 L259.00,204.75 L259.50,204.77 L260.00,204.79 L260.50,204.80"/>
<path d="M37.50,184.59 L38.00,184.55 L38.50,184.49 L39.00,184.43 L39.50,184.35 L40.00,184.26 L40.50,184.16 L41.00,184.06 L41.50,183.95 L42.00,183.83 L42.50,183.70 L43.00,183.56 L43.50,183.40 L44.00,183.22 L44.50,183.03 L45.00,182.83 L45.50,182.61 L46.00,182.38 L46.50,182.14 L47.00,181.90 L47.50,181.63 L48.00,181.34 L48.50,181.02 L49.00,180.68 L49.50,180.32 L50.00,179.95 L50.50,179.56 L51.00,179.16 L51.50,178.76 L52.00,178.35 L52.50,177.92 L53.00,177.47 L53.50,176.99 L54.00,176.50 L54.50,176.00 L55.00,175.50 L55.50,175.00 L56.00,174.52 L56.50,174.03 L57.00,173.54 L57.50,173.04 L58.00,172.52 L58.50,172.00 L59.00,171.42 L59.50,170.76 L60.00,170.05 L60.50,169.30 L61.00,168.56 L61.50,167.83 L62.00,167.14 L62.50,166.49 L63.00,165.84 L63.50,165.18 L64.00,164.53 L64.50,163.89 L65.00,163.25 L65.50,162.61 L66.00,161.98 L66.50,161.36 L67.00,160.74 L67.50,160.12 L68.00,159.52 L68.50,158.92 L69.00,158.33 L69.50,157.74 L70.00,157.15 L70.50,156.57 L71.00,155.99 L71.50,155.42 L72.00,154.85 L72.50,154.28 L73.00,153.73 L73.50,153.17 L74.00,152.63 L74.50,152.10 L75.00,151.57 L75.50,151.05 L76.00,150.55 L76.50,150.06 L77.00,149.58 L77.50,149.11 L78.00,148.64 L78.50,148.17 L79.00,147.70 L79.50,147.24 L80.00,146.76 L80.50,146.28 L81.00,145.80 L81.50,145.30 L82.00,144.79 L82.50,144.26 L83.00,143.72 L83.50,143.16 L84.00,142.59 L84.50,142.02 L85.00,141.43 L85.50,140.78 L86.00,140.13 L86.50,139.46 L87.00,138.80 L87.50,138.13 L88.00,137.46 L88.50,136.80 L89.00,136.14 L89.50,135.47 L90.00,134.78 L90.50,134.08 L91.00,133.37 L91.50,132.65 L92.00,131.93 L92.50,131.22 L93.00,130.52 L93.50,129.82 L94.00,129.14 L94.50,128.48 L95.00,127.85 L95.50,127.24 L96.00,126.67 L96.50,126.13 L97.00,125.62 L97.50,125.14 L98.00,124.67 L98.50,124.21 L99.00,123.76 L99.50,123.29 L100.00,122.81 L100.50,122.37 L101.00,121.92 L101.50,121.47 L102.00,121.01 L102.50,120.56 L103.00,120.10 L103.50,119.64 L104.00,119.18 L104.50,118.72 L105.00,118.26 L105.50,117.81 L106.00,117.36 L106.50,116.91 L107.00,116.45 L107.50,115.98 L108.00,115.50 L108.50,115.00 L109.00,114.48 L109.50,113.94 L110.00,113.39 L110.50,112.81 L111.00,112.20 L111.50,111.55 L112.00,110.84 L112.50,110.07 L113.00,109.22 L113.50,108.27 L114.00,107.18 L114.50,105.87 L115.00,104.24 L115.50,102.44 L116.00,100.60 L116.50,98.88 L117.00,97.24 L117.50,95.59 L118.00,93.98 L118.50,92.44 L119.00,91.00 L119.50,89.64 L120.00,88.35 L120.50,87.17 L121.00,86.11 L121.50,85.14 L122.00,84.23 L122.50,83.33 L123.00,82.40 L123.50,81.46 L124.00,80.54 L124.50,79.69 L125.00,78.94 L125.50,78.33 L126.00,77.83 L126.50,77.34 L127.00,76.87 L127.50,76.44 L128.00,76.06 L128.50,75.72 L129.00,75.44 L129.50,75.23 L130.00,75.09 L130.50,74.99 L131.00,74.93 L131.50,74.91 L132.00,74.91 L132.50,74.92 L133.00,75.08 L133.50,75.47 L134.00,76.01 L134.50,76.61 L135.00,77.20 L135.50,77.78 L136.00,78.40 L136.50,79.08 L137.00,79.81 L137.50,80.55 L138.00,81.29 L138.50,82.08 L139.00,82.98 L139.50,84.00 L140.00,85.20 L140.50,86.56 L141.00,88.29 L141.50,90.35 L142.00,92.66 L142.50,95.17 L143.00,97.79 L143.50,100.48 L144.00,103.62 L144.50,107.34 L145.00,111.16 L145.50,114.59 L146.00,117.15 L146.50,119.01 L147.00,120.70 L147.50,122.23 L148.00,123.63 L148.50,124.92 L149.00,126.11 L149.50,127.23 L150.00,128.30 L150.50,129.34 L151.00,130.37 L151.50,131.41 L152.00,132.43 L152.50,133.41 L153.00,134.34 L153.50,135.24 L154.00,136.10 L154.50,136.92 L155.00,137.72 L155.50,138.48 L156.00,139.22 L156.50,139.94 L157.00,140.64 L157.50,141.32 L158.00,141.98 L158.50,142.62 L159.00,143.26 L159.50,143.88 L160.00,144.49 L160.50,145.09 L161.00,145.69 L161.50,146.29 L162.00,146.89 L162.50,147.48 L163.00,148.07 L163.50,148.66 L164.00,149.24 L164.50,149.83 L165.00,150.42 L165.50,150.92 L166.00,151.41 L166.50,151.91 L167.00,152.40 L167.50,152.89 L168.00,153.37 L168.50,153.84 L169.00,154.29 L169.50,154.73 L170.00,155.16 L170.50,155.58 L171.00,155.99 L171.50,156.40 L172.00,156.80 L172.50,157.20 L173.00,157.60 L173.50,157.99 L174.00,158.38 L174.50,158.77 L175.00,159.17 L175.50,159.55 L176.00,159.93 L176.50,160.30 L177.00,160.68 L177.50,161.04 L178.00,161.40 L178.50,161.75 L179.00,162.09 L179.50,162.42 L180.00,162.76 L180.50,163.09 L181.00,163.43 L181.50,163.76 L182.00,164.10 L182.50,164.43 L183.00,164.77 L183.50,165.10 L184.00,165.44 L184.50,165.77 L185.00,166.10 L185.50,166.42 L186.00,166.75 L186.50,167.07 L187.00,167.41 L187.50,167.75 L188.00,168.09 L188.50,168.45 L189.00,168.80 L189.50,169.16 L190.00,169.52 L190.50,169.88 L191.00,170.23 L191.50,170.59 L192.00,170.94 L192.50,171.28 L193.00,171.62 L193.50,171.95 L194.00,172.28 L194.50,172.61 L195.00,172.94 L195.50,173.27 L196.00,173.60 L196.50,173.93 L197.00,174.27 L197.50,174.62 L198.00,174.98 L198.50,175.35 L199.00,175.73 L199.50,176.12 L200.00,176.53 L200.50,176.94 L201.00,177.35 L201.50,177.77 L202.00,178.19 L202.50,178.60 L203.00,179.01 L203.50,179.41 L204.00,179.81 L204.50,180.21 L205.00,180.61 L205.50,181.01 L206.00,181.41 L206.50,181.81 L207.00,182.21 L207.50,182.61 L208.00,183.02 L208.50,183.43 L209.00,183.84 L209.50,184.26 L210.00,184.67 L210.50,185.08 L211.00,185.50 L211.50,185.92 L212.00,186.33 L212.50,186.75 L213.00,187.17 L213.50,187.58 L214.00,188.00 L214.50,188.43 L215.00,188.85 L215.50,189.27 L216.00,189.70 L216.50,190.13 L217.00,190.56 L217.50,190.98 L218.00,191.40 L218.50,191.81 L219.00,192.21 L219.50,192.60 L220.00,192.98 L220.50,193.35 L221.00,193.70 L221.50,194.05 L222.00,194.40 L222.50,194.74 L223.00,195.08 L223.50,195.41 L224.00,195.74 L224.50,196.06 L225.00,196.37 L225.50,196.68 L226.00,196.98 L226.50,197.27 L227.00,197.55 L227.50,197.82 L228.00,198.09 L228.50,198.34 L229.00,198.59 L229.50,198.83 L230.00,199.06 L230.50,199.29 L231.00,199.52 L231.50,199.75 L232.00,199.97 L232.50,200.19 L233.00,200.41 L233.50,200.62 L234.00,200.82 L234.50,201.02 L235.00,201.22 L235.50,201.40 L236.00,201.58 L236.50,201.75 L237.00,201.91 L237.50,202.07 L238.00,202.21 L238.50,202.35 L239.00,202.47 L239.50,202.59 L240.00,202.70 L240.50,202.80 L241.00,202.91 L241.50,203.01 L242.00,203.11 L242.50,203.20 L243.00,203.29 L243.50,203.37 L244.00,203.46 L244.50,203.53 L245.00,203.61 L245.50,203.68 L246.00,203.75 L246.50,203.81 L247.00,203.87 L247.50,203.93 L248.00,203.98 L248.50,204.03 L249.00,204.08 L249.50,204.13 L250.00,204.18 L250.50,204.22 L251.00,204.26 L251.50,204.30 L252.00,204.34 L252.50,204.38 L253.00,204.42 L253.50,204.45 L254.00,204.49 L254.50,204.52 L255.00,204.55 L255.50,204.58 L256.00,204.61 L256.50,204.64 L257.00,204.66 L257.50,204.69 L258.00,204.71 L258.50,204.73 L259.00,204.75 L259.50,204.77 L260.00,204.79 L260.50,204.80"/>
<path d="M37.50,186.20 L38.00,186.16 L38.50,186.10 L39.00,186.03 L39.50,185.95 L40.00,185.86 L40.50,185.75 L41.00,185.64 L41.50,185.52 L42.00,185.40 L42.50,185.27 L43.00,185.11 L43.50,184.94 L44.00,184.75 L44.50,184.54 L45.00,184.32 L45.50,184.08 L46.00,183.83 L46.50,183.57 L47.00,183.30 L47.50,183.01 L48.00,182.68 L48.50,182.32 L49.00,181.94 L49.50,181.54 L50.00,181.11 L50.50,180.67 L51.00,180.22 L51.50,179.76 L52.00,179.30 L52.50,178.82 L53.00,178.30 L53.50,177.76 L54.00,177.21 L54.50,176.64 L55.00,176.07 L55.50,175.50 L56.00,174.95 L56.50,174.43 L57.00,173.89 L57.50,173.32 L58.00,172.70 L58.50,172.00 L59.00,171.16 L59.50,170.19 L60.00,169.10 L60.50,167.95 L61.00,166.77 L61.50,165.61 L62.00,164.50 L62.50,163.43 L63.00,162.35 L63.50,161.27 L64.00,160.19 L64.50,159.11 L65.00,158.04 L65.50,156.97 L66.00,155.92 L66.50,154.87 L67.00,153.84 L67.50,152.81 L68.00,151.80 L68.50,150.80 L69.00,149.81 L69.50,148.83 L70.00,147.85 L70.50,146.87 L71.00,145.90 L71.50,144.93 L72.00,143.98 L72.50,143.03 L73.00,142.10 L73.50,141.18 L74.00,140.27 L74.50,139.38 L75.00,138.50 L75.50,137.64 L76.00,136.81 L76.50,136.00 L77.00,135.21 L77.50,134.43 L78.00,133.66 L78.50,132.89 L79.00,132.13 L79.50,131.36 L80.00,130.59 L80.50,129.81 L81.00,129.01 L81.50,128.20 L82.00,127.36 L82.50,126.50 L83.00,125.61 L83.50,124.70 L84.00,123.77 L84.50,122.82 L85.00,121.86 L85.50,120.89 L86.00,119.91 L86.50,118.92 L87.00,117.93 L87.50,116.94 L88.00,115.95 L88.50,114.97 L89.00,114.00 L89.50,113.02 L90.00,112.01 L90.50,110.98 L91.00,109.94 L91.50,108.89 L92.00,107.84 L92.50,106.80 L93.00,105.77 L93.50,104.77 L94.00,103.79 L94.50,102.85 L95.00,101.95 L95.50,101.10 L96.00,100.30 L96.50,99.57 L97.00,98.89 L97.50,98.26 L98.00,97.66 L98.50,97.07 L99.00,96.49 L99.50,95.91 L100.00,95.30 L100.50,94.68 L101.00,94.05 L101.50,93.42 L102.00,92.79 L102.50,92.16 L103.00,91.52 L103.50,90.90 L104.00,90.27 L104.50,89.65 L105.00,89.03 L105.50,88.43 L106.00,87.84 L106.50,87.25 L107.00,86.65 L107.50,86.05 L108.00,85.43 L108.50,84.80 L109.00,84.13 L109.50,83.46 L110.00,82.78 L110.50,82.07 L111.00,81.32 L111.50,80.52 L112.00,79.64 L112.50,78.72 L113.00,77.72 L113.50,76.59 L114.00,75.29 L114.50,73.64 L115.00,71.52 L115.50,69.13 L116.00,66.68 L116.50,64.40 L117.00,62.26 L117.50,60.11 L118.00,58.03 L118.50,56.08 L119.00,54.31 L119.50,52.65 L120.00,51.12 L120.50,49.75 L121.00,48.57 L121.50,47.52 L122.00,46.56 L122.50,45.61 L123.00,44.60 L123.50,43.57 L124.00,42.56 L124.50,41.66 L125.00,40.92 L125.50,40.40 L126.00,40.02 L126.50,39.67 L127.00,39.35 L127.50,39.09 L128.00,38.88 L128.50,38.75 L129.00,38.70 L129.50,38.75 L130.00,38.88 L130.50,39.10 L131.00,39.38 L131.50,39.71 L132.00,40.09 L132.50,40.50 L133.00,41.11 L133.50,42.04 L134.00,43.16 L134.50,44.38 L135.00,45.57 L135.50,46.72 L136.00,47.92 L136.50,49.19 L137.00,50.50 L137.50,51.80 L138.00,53.08 L138.50,54.40 L139.00,55.84 L139.50,57.49 L140.00,59.40 L140.50,61.79 L141.00,64.74 L141.50,68.15 L142.00,71.92 L142.50,75.95 L143.00,80.15 L143.50,84.40 L144.00,89.30 L144.50,95.03 L145.00,100.87 L145.50,106.10 L146.00,110.00 L146.50,112.85 L147.00,115.43 L147.50,117.76 L148.00,119.87 L148.50,121.81 L149.00,123.61 L149.50,125.28 L150.00,126.88 L150.50,128.43 L151.00,129.96 L151.50,131.51 L152.00,133.04 L152.50,134.53 L153.00,135.98 L153.50,137.38 L154.00,138.75 L154.50,140.08 L155.00,141.37 L155.50,142.62 L156.00,143.83 L156.50,145.01 L157.00,146.16 L157.50,147.27 L158.00,148.34 L158.50,149.39 L159.00,150.40 L159.50,151.38 L160.00,152.32 L160.50,153.23 L161.00,154.11 L161.50,154.96 L162.00,155.79 L162.50,156.60 L163.00,157.39 L163.50,158.17 L164.00,158.94 L164.50,159.70 L165.00,160.45 L165.50,161.19 L166.00,161.92 L166.50,162.64 L167.00,163.34 L167.50,164.03 L168.00,164.70 L168.50,165.36 L169.00,165.99 L169.50,166.61 L170.00,167.20 L170.50,167.78 L171.00,168.35 L171.50,168.90 L172.00,169.45 L172.50,169.98 L173.00,170.50 L173.50,171.00 L174.00,171.48 L174.50,171.95 L175.00,172.40 L175.50,172.83 L176.00,173.25 L176.50,173.64 L177.00,174.03 L177.50,174.41 L178.00,174.78 L178.50,175.13 L179.00,175.48 L179.50,175.82 L180.00,176.15 L180.50,176.47 L181.00,176.79 L181.50,177.10 L182.00,177.40 L182.50,177.70 L183.00,178.00 L183.50,178.29 L184.00,178.57 L184.50,178.85 L185.00,179.12 L185.50,179.38 L186.00,179.64 L186.50,179.90 L187.00,180.15 L187.50,180.40 L188.00,180.64 L188.50,180.89 L189.00,181.13 L189.50,181.37 L190.00,181.61 L190.50,181.86 L191.00,182.10 L191.50,182.35 L192.00,182.60 L192.50,182.84 L193.00,183.08 L193.50,183.32 L194.00,183.56 L194.50,183.79 L195.00,184.03 L195.50,184.26 L196.00,184.49 L196.50,184.72 L197.00,184.95 L197.50,185.18 L198.00,185.41 L198.50,185.64 L199.00,185.87 L199.50,186.10 L200.00,186.34 L200.50,186.57 L201.00,186.80 L201.50,187.03 L202.00,187.27 L202.50,187.51 L203.00,187.75 L203.50,187.99 L204.00,188.23 L204.50,188.48 L205.00,188.72 L205.50,188.97 L206.00,189.23 L206.50,189.49 L207.00,189.75 L207.50,190.01 L208.00,190.29 L208.50,190.57 L209.00,190.86 L209.50,191.15 L210.00,191.45 L210.50,191.75 L211.00,192.06 L211.50,192.37 L212.00,192.68 L212.50,192.99 L213.00,193.31 L213.50,193.62 L214.00,193.93 L214.50,194.24 L215.00,194.55 L215.50,194.85 L216.00,195.15 L216.50,195.44 L217.00,195.73 L217.50,196.01 L218.00,196.29 L218.50,196.55 L219.00,196.81 L219.50,197.06 L220.00,197.29 L220.50,197.53 L221.00,197.76 L221.50,197.99 L222.00,198.22 L222.50,198.44 L223.00,198.66 L223.50,198.88 L224.00,199.09 L224.50,199.30 L225.00,199.50 L225.50,199.70 L226.00,199.89 L226.50,200.08 L227.00,200.26 L227.50,200.43 L228.00,200.59 L228.50,200.75 L229.00,200.90 L229.50,201.04 L230.00,201.19 L230.50,201.32 L231.00,201.46 L231.50,201.60 L232.00,201.73 L232.50,201.85 L233.00,201.98 L233.50,202.10 L234.00,202.22 L234.50,202.33 L235.00,202.44 L235.50,202.55 L236.00,202.65 L236.50,202.75 L237.00,202.84 L237.50,202.93 L238.00,203.02 L238.50,203.10 L239.00,203.17 L239.50,203.24 L240.00,203.31 L240.50,203.38 L241.00,203.44 L241.50,203.50 L242.00,203.56 L242.50,203.62 L243.00,203.68 L243.50,203.74 L244.00,203.79 L244.50,203.84 L245.00,203.89 L245.50,203.94 L246.00,203.99 L246.50,204.03 L247.00,204.08 L247.50,204.12 L248.00,204.16 L248.50,204.20 L249.00,204.23 L249.50,204.27 L250.00,204.30 L250.50,204.33 L251.00,204.36 L251.50,204.40 L252.00,204.43 L252.50,204.46 L253.00,204.49 L253.50,204.51 L254.00,204.54 L254.50,204.57 L255.00,204.59 L255.50,204.62 L256.00,204.64 L256.50,204.67 L257.00,204.69 L257.50,204.71 L258.00,204.73 L258.50,204.75 L259.00,204.76 L259.50,204.78 L260.00,204.79 L260.50,204.80"/>
<path d="M310.00,204.60 L310.50,204.60 L311.00,204.59 L311.50,204.58 L312.00,204.57 L312.50,204.56 L313.00,204.55 L313.50,204.53 L314.00,204.52 L314.50,204.50 L315.00,204.48 L315.50,204.46 L316.00,204.44 L316.50,204.42 L317.00,204.40 L317.50,204.38 L318.00,204.35 L318.50,204.33 L319.00,204.29 L319.50,204.26 L320.00,204.23 L320.50,204.19 L321.00,204.15 L321.50,204.10 L322.00,204.06 L322.50,204.01 L323.00,203.96 L323.50,203.90 L324.00,203.85 L324.50,203.79 L325.00,203.72 L325.50,203.65 L326.00,203.56 L326.50,203.47 L327.00,203.37 L327.50,203.26 L328.00,203.15 L328.50,203.03 L329.00,202.90 L329.50,202.77 L330.00,202.63 L330.50,202.49 L331.00,202.34 L331.50,202.18 L332.00,202.03 L332.50,201.87 L333.00,201.70 L333.50,201.52 L334.00,201.32 L334.50,201.11 L335.00,200.89 L335.50,200.66 L336.00,200.41 L336.50,200.16 L337.00,199.89 L337.50,199.62 L338.00,199.34 L338.50,199.05 L339.00,198.75 L339.50,198.46 L340.00,198.15 L340.50,197.85 L341.00,197.54 L341.50,197.22 L342.00,196.89 L342.50,196.54 L343.00,196.18 L343.50,195.82 L344.00,195.44 L344.50,195.05 L345.00,194.65 L345.50,194.25 L346.00,193.84 L346.50,193.43 L347.00,193.00 L347.50,192.58 L348.00,192.15 L348.50,191.72 L349.00,191.29 L349.50,190.85 L350.00,190.42 L350.50,189.99 L351.00,189.56 L351.50,189.13 L352.00,188.69 L352.50,188.24 L353.00,187.78 L353.50,187.31 L354.00,186.83 L354.50,186.34 L355.00,185.83 L355.50,185.30 L356.00,184.75 L356.50,184.19 L357.00,183.59 L357.50,182.97 L358.00,182.32 L358.50,181.63 L359.00,180.90 L359.50,180.14 L360.00,179.34 L360.50,178.52 L361.00,177.66 L361.50,176.79 L362.00,175.88 L362.50,174.96 L363.00,174.02 L363.50,173.05 L364.00,172.08 L364.50,171.09 L365.00,170.08 L365.50,169.07 L366.00,168.05 L366.50,167.03 L367.00,166.00 L367.50,164.95 L368.00,163.86 L368.50,162.74 L369.00,161.58 L369.50,160.40 L370.00,159.19 L370.50,157.97 L371.00,156.73 L371.50,155.48 L372.00,154.22 L372.50,152.97 L373.00,151.71 L373.50,150.46 L374.00,149.22 L374.50,148.00 L375.00,146.79 L375.50,145.58 L376.00,144.38 L376.50,143.18 L377.00,141.97 L377.50,140.77 L378.00,139.55 L378.50,138.33 L379.00,137.09 L379.50,135.85 L380.00,134.58 L380.50,133.30 L381.00,132.00 L381.50,130.67 L382.00,129.31 L382.50,127.92 L383.00,126.51 L383.50,125.09 L384.00,123.66 L384.50,122.24 L385.00,120.81 L385.50,119.40 L386.00,118.00 L386.50,116.59 L387.00,115.13 L387.50,113.67 L388.00,112.21 L388.50,110.79 L389.00,109.43 L389.50,108.16 L390.00,107.00 L390.50,105.92 L391.00,104.86 L391.50,103.84 L392.00,102.85 L392.50,101.92 L393.00,101.03 L393.50,100.21 L394.00,99.45 L394.50,98.76 L395.00,98.13 L395.50,97.52 L396.00,96.94 L396.50,96.38 L397.00,95.85 L397.50,95.36 L398.00,94.90 L398.50,94.48 L399.00,94.10 L399.50,93.78 L400.00,93.50 L400.50,93.25 L401.00,93.01 L401.50,92.77 L402.00,92.54 L402.50,92.32 L403.00,92.13 L403.50,91.95 L404.00,91.80 L404.50,91.67 L405.00,91.58 L405.50,91.52 L406.00,91.50 L406.50,91.51 L407.00,91.54 L407.50,91.59 L408.00,91.65 L408.50,91.73 L409.00,91.81 L409.50,91.91 L410.00,92.02 L410.50,92.13 L411.00,92.25 L411.50,92.38 L412.00,92.50 L412.50,92.64 L413.00,92.80 L413.50,92.99 L414.00,93.20 L414.50,93.43 L415.00,93.68 L415.50,93.95 L416.00,94.23 L416.50,94.52 L417.00,94.83 L417.50,95.17 L418.00,95.56 L418.50,95.98 L419.00,96.43 L419.50,96.91 L420.00,97.41 L420.50,97.92 L421.00,98.44 L421.50,98.97 L422.00,99.50 L422.50,100.04 L423.00,100.60 L423.50,101.18 L424.00,101.77 L424.50,102.38 L425.00,103.00 L425.50,103.64 L426.00,104.29 L426.50,104.94 L427.00,105.60 L427.50,106.26 L428.00,106.93 L428.50,107.60 L429.00,108.28 L429.50,108.97 L430.00,109.67 L430.50,110.38 L431.00,111.10 L431.50,111.83 L432.00,112.56 L432.50,113.29 L433.00,114.03 L433.50,114.77 L434.00,115.50 L434.50,116.24 L435.00,116.98 L435.50,117.72 L436.00,118.47 L436.50,119.22 L437.00,119.97 L437.50,120.72 L438.00,121.48 L438.50,122.23 L439.00,122.99 L439.50,123.74 L440.00,124.50 L440.50,125.25 L441.00,126.00 L441.50,126.75 L442.00,127.51 L442.50,128.28 L443.00,129.05 L443.50,129.82 L444.00,130.59 L444.50,131.36 L445.00,132.13 L445.50,132.89 L446.00,133.64 L446.50,134.38 L447.00,135.11 L447.50,135.83 L448.00,136.54 L448.50,137.24 L449.00,137.93 L449.50,138.60 L450.00,139.26 L450.50,139.91 L451.00,140.56 L451.50,141.20 L452.00,141.83 L452.50,142.46 L453.00,143.08 L453.50,143.69 L454.00,144.30 L454.50,144.91 L455.00,145.51 L455.50,146.11 L456.00,146.71 L456.50,147.30 L457.00,147.89 L457.50,148.48 L458.00,149.07 L458.50,149.65 L459.00,150.24 L459.50,150.82 L460.00,151.41 L460.50,151.99 L461.00,152.57 L461.50,153.15 L462.00,153.73 L462.50,154.30 L463.00,154.87 L463.50,155.44 L464.00,156.01 L464.50,156.57 L465.00,157.13 L465.50,157.69 L466.00,158.24 L466.50,158.79 L467.00,159.34 L467.50,159.88 L468.00,160.42 L468.50,160.95 L469.00,161.48 L469.50,162.01 L470.00,162.53 L470.50,163.05 L471.00,163.56 L471.50,164.06 L472.00,164.56 L472.50,165.05 L473.00,165.54 L473.50,166.03 L474.00,166.51 L474.50,166.99 L475.00,167.47 L475.50,167.95 L476.00,168.43 L476.50,168.92 L477.00,169.40 L477.50,169.89 L478.00,170.39 L478.50,170.90 L479.00,171.40 L479.50,171.91 L480.00,172.42 L480.50,172.92 L481.00,173.42 L481.50,173.91 L482.00,174.39 L482.50,174.86 L483.00,175.32 L483.50,175.76 L484.00,176.19 L484.50,176.60 L485.00,177.00 L485.50,177.40 L486.00,177.80 L486.50,178.20 L487.00,178.59 L487.50,178.97 L488.00,179.35 L488.50,179.73 L489.00,180.10 L489.50,180.47 L490.00,180.83 L490.50,181.19 L491.00,181.56 L491.50,181.91 L492.00,182.26 L492.50,182.61 L493.00,182.95 L493.50,183.29 L494.00,183.62 L494.50,183.94 L495.00,184.26 L495.50,184.57 L496.00,184.88 L496.50,185.18 L497.00,185.48 L497.50,185.77 L498.00,186.05 L498.50,186.33 L499.00,186.60 L499.50,186.87 L500.00,187.15 L500.50,187.42 L501.00,187.68 L501.50,187.95 L502.00,188.21 L502.50,188.47 L503.00,188.73 L503.50,188.98 L504.00,189.24 L504.50,189.49 L505.00,189.73 L505.50,189.98 L506.00,190.22 L506.50,190.45 L507.00,190.69 L507.50,190.92 L508.00,191.15 L508.50,191.37 L509.00,191.59 L509.50,191.81 L510.00,192.02 L510.50,192.23 L511.00,192.44 L511.50,192.64 L512.00,192.84 L512.50,193.03 L513.00,193.22 L513.50,193.40 L514.00,193.58 L514.50,193.76 L515.00,193.93 L515.50,194.09 L516.00,194.25 L516.50,194.41 L517.00,194.56 L517.50,194.71 L518.00,194.85 L518.50,195.00 L519.00,195.14 L519.50,195.28 L520.00,195.42 L520.50,195.56 L521.00,195.70 L521.50,195.83 L522.00,195.97 L522.50,196.10 L523.00,196.23 L523.50,196.35 L524.00,196.48 L524.50,196.60 L525.00,196.72 L525.50,196.83 L526.00,196.94 L526.50,197.06 L527.00,197.16 L527.50,197.27 L528.00,197.37 L528.50,197.47 L529.00,197.56 L529.50,197.65 L530.00,197.74 L530.50,197.83 L531.00,197.91 L531.50,197.99 L532.00,198.06 L532.50,198.13 L533.00,198.20 L533.50,198.26"/>
<path d="M310.00,204.12 L310.50,204.08 L311.00,204.04 L311.50,203.99 L312.00,203.94 L312.50,203.88 L313.00,203.82 L313.50,203.75 L314.00,203.68 L314.50,203.60 L315.00,203.53 L315.50,203.45 L316.00,203.36 L316.50,203.28 L317.00,203.19 L317.50,203.10 L318.00,203.00 L318.50,202.91 L319.00,202.80 L319.50,202.68 L320.00,202.56 L320.50,202.43 L321.00,202.30 L321.50,202.16 L322.00,202.02 L322.50,201.87 L323.00,201.71 L323.50,201.55 L324.00,201.39 L324.50,201.22 L325.00,201.04 L325.50,200.85 L326.00,200.65 L326.50,200.44 L327.00,200.21 L327.50,199.98 L328.00,199.74 L328.50,199.49 L329.00,199.23 L329.50,198.97 L330.00,198.71 L330.50,198.44 L331.00,198.18 L331.50,197.91 L332.00,197.63 L332.50,197.36 L333.00,197.08 L333.50,196.79 L334.00,196.49 L334.50,196.17 L335.00,195.85 L335.50,195.51 L336.00,195.16 L336.50,194.81 L337.00,194.44 L337.50,194.06 L338.00,193.67 L338.50,193.28 L339.00,192.87 L339.50,192.46 L340.00,192.04 L340.50,191.62 L341.00,191.19 L341.50,190.74 L342.00,190.29 L342.50,189.82 L343.00,189.34 L343.50,188.84 L344.00,188.34 L344.50,187.82 L345.00,187.29 L345.50,186.75 L346.00,186.20 L346.50,185.63 L347.00,185.06 L347.50,184.47 L348.00,183.87 L348.50,183.27 L349.00,182.66 L349.50,182.05 L350.00,181.44 L350.50,180.84 L351.00,180.23 L351.50,179.63 L352.00,179.02 L352.50,178.42 L353.00,177.81 L353.50,177.19 L354.00,176.57 L354.50,175.93 L355.00,175.27 L355.50,174.60 L356.00,173.90 L356.50,173.18 L357.00,172.43 L357.50,171.65 L358.00,170.83 L358.50,169.96 L359.00,169.05 L359.50,168.09 L360.00,167.10 L360.50,166.08 L361.00,165.04 L361.50,163.97 L362.00,162.88 L362.50,161.79 L363.00,160.69 L363.50,159.59 L364.00,158.47 L364.50,157.35 L365.00,156.22 L365.50,155.08 L366.00,153.94 L366.50,152.79 L367.00,151.64 L367.50,150.48 L368.00,149.28 L368.50,148.05 L369.00,146.80 L369.50,145.53 L370.00,144.23 L370.50,143.06 L371.00,141.88 L371.50,140.70 L372.00,139.51 L372.50,138.32 L373.00,137.14 L373.50,135.97 L374.00,134.81 L374.50,133.66 L375.00,132.53 L375.50,131.42 L376.00,130.30 L376.50,129.19 L377.00,128.09 L377.50,126.98 L378.00,125.88 L378.50,124.76 L379.00,123.65 L379.50,122.52 L380.00,121.38 L380.50,120.23 L381.00,119.06 L381.50,117.87 L382.00,116.65 L382.50,115.41 L383.00,114.16 L383.50,112.91 L384.00,111.67 L384.50,110.45 L385.00,109.23 L385.50,108.00 L386.00,106.79 L386.50,105.57 L387.00,104.34 L387.50,103.11 L388.00,101.90 L388.50,100.73 L389.00,99.61 L389.50,98.56 L390.00,97.62 L390.50,96.74 L391.00,95.90 L391.50,95.09 L392.00,94.32 L392.50,93.59 L393.00,92.90 L393.50,92.26 L394.00,91.68 L394.50,91.16 L395.00,90.70 L395.50,90.26 L396.00,89.86 L396.50,89.47 L397.00,89.11 L397.50,88.79 L398.00,88.49 L398.50,88.23 L399.00,88.01 L399.50,87.83 L400.00,87.70 L400.50,87.50 L401.00,87.30 L401.50,87.11 L402.00,86.93 L402.50,86.77 L403.00,86.63 L403.50,86.51 L404.00,86.42 L404.50,86.36 L405.00,86.33 L405.50,86.34 L406.00,86.38 L406.50,86.46 L407.00,86.55 L407.50,86.66 L408.00,86.79 L408.50,86.93 L409.00,87.08 L409.50,87.25 L410.00,87.43 L410.50,87.62 L411.00,87.82 L411.50,88.03 L412.00,88.24 L412.50,88.47 L413.00,88.73 L413.50,89.01 L414.00,89.31 L414.50,89.63 L415.00,89.97 L415.50,90.33 L416.00,90.70 L416.50,91.08 L417.00,91.47 L417.50,91.90 L418.00,92.36 L418.50,92.85 L419.00,93.37 L419.50,93.91 L420.00,94.46 L420.50,95.03 L421.00,95.61 L421.50,96.20 L422.00,96.79 L422.50,97.38 L423.00,98.00 L423.50,98.63 L424.00,99.28 L424.50,99.94 L425.00,100.62 L425.50,101.31 L426.00,102.00 L426.50,102.71 L427.00,103.42 L427.50,104.13 L428.00,104.85 L428.50,105.58 L429.00,106.31 L429.50,107.05 L430.00,107.81 L430.50,108.58 L431.00,109.37 L431.50,110.15 L432.00,110.95 L432.50,111.74 L433.00,112.54 L433.50,113.34 L434.00,114.13 L434.50,114.92 L435.00,115.71 L435.50,116.51 L436.00,117.30 L436.50,118.08 L437.00,118.87 L437.50,119.65 L438.00,120.43 L438.50,121.20 L439.00,121.98 L439.50,122.75 L440.00,123.52 L440.50,124.28 L441.00,125.05 L441.50,125.82 L442.00,126.59 L442.50,127.37 L443.00,128.16 L443.50,128.94 L444.00,129.73 L444.50,130.51 L445.00,131.29 L445.50,132.07 L446.00,132.83 L446.50,133.59 L447.00,134.34 L447.50,135.08 L448.00,135.80 L448.50,136.52 L449.00,137.22 L449.50,137.91 L450.00,138.59 L450.50,139.26 L451.00,139.93 L451.50,140.59 L452.00,141.24 L452.50,141.89 L453.00,142.53 L453.50,143.16 L454.00,143.79 L454.50,144.42 L455.00,145.04 L455.50,145.65 L456.00,146.27 L456.50,146.88 L457.00,147.48 L457.50,148.09 L458.00,148.69 L458.50,149.29 L459.00,149.89 L459.50,150.49 L460.00,151.08 L460.50,151.67 L461.00,152.27 L461.50,152.86 L462.00,153.44 L462.50,154.03 L463.00,154.61 L463.50,155.20 L464.00,155.78 L464.50,156.35 L465.00,156.93 L465.50,157.50 L466.00,158.07 L466.50,158.64 L467.00,159.20 L467.50,159.76 L468.00,160.32 L468.50,160.87 L469.00,161.42 L469.50,161.96 L470.00,162.50 L470.50,163.03 L471.00,163.56 L471.50,164.08 L472.00,164.60 L472.50,165.11 L473.00,165.62 L473.50,166.12 L474.00,166.62 L474.50,167.12 L475.00,167.62 L475.50,168.11 L476.00,168.61 L476.50,169.11 L477.00,169.60 L477.50,170.10 L478.00,170.61 L478.50,171.12 L479.00,171.63 L479.50,172.14 L480.00,172.65 L480.50,173.15 L481.00,173.65 L481.50,174.15 L482.00,174.63 L482.50,175.10 L483.00,175.56 L483.50,176.00 L484.00,176.43 L484.50,176.84 L485.00,177.25 L485.50,177.66 L486.00,178.06 L486.50,178.45 L487.00,178.85 L487.50,179.24 L488.00,179.62 L488.50,180.00 L489.00,180.37 L489.50,180.74 L490.00,181.11 L490.50,181.47 L491.00,181.84 L491.50,182.19 L492.00,182.54 L492.50,182.89 L493.00,183.23 L493.50,183.57 L494.00,183.90 L494.50,184.22 L495.00,184.54 L495.50,184.85 L496.00,185.16 L496.50,185.46 L497.00,185.76 L497.50,186.05 L498.00,186.33 L498.50,186.61 L499.00,186.88 L499.50,187.15 L500.00,187.43 L500.50,187.70 L501.00,187.96 L501.50,188.23 L502.00,188.49 L502.50,188.75 L503.00,189.01 L503.50,189.26 L504.00,189.52 L504.50,189.77 L505.00,190.01 L505.50,190.26 L506.00,190.50 L506.50,190.73 L507.00,190.97 L507.50,191.20 L508.00,191.43 L508.50,191.65 L509.00,191.87 L509.50,192.09 L510.00,192.30 L510.50,192.51 L511.00,192.72 L511.50,192.92 L512.00,193.12 L512.50,193.31 L513.00,193.50 L513.50,193.68 L514.00,193.86 L514.50,194.04 L515.00,194.21 L515.50,194.37 L516.00,194.53 L516.50,194.69 L517.00,194.84 L517.50,194.99 L518.00,195.13 L518.50,195.28 L519.00,195.42 L519.50,195.56 L520.00,195.70 L520.50,195.84 L521.00,195.98 L521.50,196.11 L522.00,196.25 L522.50,196.38 L523.00,196.51 L523.50,196.63 L524.00,196.76 L524.50,196.88 L525.00,197.00 L525.50,197.11 L526.00,197.22 L526.50,197.34 L527.00,197.44 L527.50,197.55 L528.00,197.65 L528.50,197.75 L529.00,197.84 L529.50,197.93 L530.00,198.02 L530.50,198.11 L531.00,198.19 L531.50,198.27 L532.00,198.34 L532.50,198.41 L533.00,198.48 L533.50,198.54"/>
<path d="M310.00,203.86 L310.50,203.80 L311.00,203.74 L311.50,203.67 L312.00,203.59 L312.50,203.51 L313.00,203.42 L313.50,203.32 L314.00,203.22 L314.50,203.12 L315.00,203.01 L315.50,202.89 L316.00,202.78 L316.50,202.66 L317.00,202.53 L317.50,202.41 L318.00,202.27 L318.50,202.14 L319.00,201.99 L319.50,201.83 L320.00,201.66 L320.50,201.48 L321.00,201.30 L321.50,201.11 L322.00,200.91 L322.50,200.70 L323.00,200.49 L323.50,200.28 L324.00,200.06 L324.50,199.83 L325.00,199.59 L325.50,199.34 L326.00,199.07 L326.50,198.79 L327.00,198.50 L327.50,198.20 L328.00,197.89 L328.50,197.57 L329.00,197.25 L329.50,196.92 L330.00,196.59 L330.50,196.26 L331.00,195.92 L331.50,195.59 L332.00,195.25 L332.50,194.92 L333.00,194.58 L333.50,194.23 L334.00,193.87 L334.50,193.50 L335.00,193.12 L335.50,192.72 L336.00,192.32 L336.50,191.91 L337.00,191.49 L337.50,191.05 L338.00,190.61 L338.50,190.15 L339.00,189.69 L339.50,189.21 L340.00,188.73 L340.50,188.24 L341.00,187.74 L341.50,187.24 L342.00,186.71 L342.50,186.18 L343.00,185.63 L343.50,185.06 L344.00,184.49 L344.50,183.90 L345.00,183.30 L345.50,182.69 L346.00,182.06 L346.50,181.41 L347.00,180.75 L347.50,180.07 L348.00,179.39 L348.50,178.69 L349.00,177.99 L349.50,177.28 L350.00,176.58 L350.50,175.88 L351.00,175.18 L351.50,174.48 L352.00,173.79 L352.50,173.10 L353.00,172.41 L353.50,171.71 L354.00,171.00 L354.50,170.29 L355.00,169.55 L355.50,168.80 L356.00,168.02 L356.50,167.22 L357.00,166.38 L357.50,165.52 L358.00,164.61 L358.50,163.65 L359.00,162.63 L359.50,161.57 L360.00,160.48 L360.50,159.35 L361.00,158.19 L361.50,157.02 L362.00,155.84 L362.50,154.66 L363.00,153.47 L363.50,152.29 L364.00,151.10 L364.50,149.91 L365.00,148.71 L365.50,147.50 L366.00,146.29 L366.50,145.08 L367.00,143.87 L367.50,142.64 L368.00,141.38 L368.50,140.10 L369.00,138.80 L369.50,137.47 L370.00,136.12 L370.50,134.89 L371.00,133.64 L371.50,132.39 L372.00,131.13 L372.50,129.88 L373.00,128.63 L373.50,127.39 L374.00,126.17 L374.50,124.96 L375.00,123.76 L375.50,122.58 L376.00,121.41 L376.50,120.24 L377.00,119.07 L377.50,117.91 L378.00,116.74 L378.50,115.58 L379.00,114.41 L379.50,113.23 L380.00,112.05 L380.50,110.85 L381.00,109.65 L381.50,108.42 L382.00,107.17 L382.50,105.89 L383.00,104.60 L383.50,103.34 L384.00,102.10 L384.50,100.90 L385.00,99.70 L385.50,98.48 L386.00,97.28 L386.50,96.10 L387.00,94.92 L387.50,93.76 L388.00,92.63 L388.50,91.54 L389.00,90.50 L389.50,89.53 L390.00,88.65 L390.50,87.83 L391.00,87.06 L391.50,86.32 L392.00,85.63 L392.50,84.96 L393.00,84.33 L393.50,83.75 L394.00,83.22 L394.50,82.75 L395.00,82.34 L395.50,81.96 L396.00,81.61 L396.50,81.28 L397.00,80.98 L397.50,80.72 L398.00,80.48 L398.50,80.27 L399.00,80.11 L399.50,79.97 L400.00,79.88 L400.50,79.75 L401.00,79.62 L401.50,79.49 L402.00,79.38 L402.50,79.28 L403.00,79.22 L403.50,79.18 L404.00,79.17 L404.50,79.20 L405.00,79.26 L405.50,79.36 L406.00,79.49 L406.50,79.65 L407.00,79.83 L407.50,80.03 L408.00,80.24 L408.50,80.46 L409.00,80.70 L409.50,80.96 L410.00,81.24 L410.50,81.54 L411.00,81.85 L411.50,82.17 L412.00,82.51 L412.50,82.86 L413.00,83.24 L413.50,83.65 L414.00,84.07 L414.50,84.52 L415.00,84.98 L415.50,85.46 L416.00,85.94 L416.50,86.44 L417.00,86.95 L417.50,87.49 L418.00,88.05 L418.50,88.64 L419.00,89.24 L419.50,89.86 L420.00,90.50 L420.50,91.14 L421.00,91.80 L421.50,92.47 L422.00,93.13 L422.50,93.81 L423.00,94.50 L423.50,95.20 L424.00,95.92 L424.50,96.66 L425.00,97.40 L425.50,98.16 L426.00,98.93 L426.50,99.70 L427.00,100.48 L427.50,101.27 L428.00,102.06 L428.50,102.85 L429.00,103.65 L429.50,104.47 L430.00,105.31 L430.50,106.17 L431.00,107.03 L431.50,107.90 L432.00,108.78 L432.50,109.66 L433.00,110.54 L433.50,111.41 L434.00,112.29 L434.50,113.15 L435.00,114.01 L435.50,114.87 L436.00,115.72 L436.50,116.56 L437.00,117.39 L437.50,118.20 L438.00,119.02 L438.50,119.82 L439.00,120.62 L439.50,121.41 L440.00,122.20 L440.50,122.98 L441.00,123.77 L441.50,124.56 L442.00,125.35 L442.50,126.15 L443.00,126.95 L443.50,127.76 L444.00,128.56 L444.50,129.37 L445.00,130.17 L445.50,130.96 L446.00,131.74 L446.50,132.52 L447.00,133.29 L447.50,134.05 L448.00,134.80 L448.50,135.54 L449.00,136.26 L449.50,136.97 L450.00,137.68 L450.50,138.38 L451.00,139.07 L451.50,139.75 L452.00,140.43 L452.50,141.10 L453.00,141.77 L453.50,142.43 L454.00,143.08 L454.50,143.73 L455.00,144.38 L455.50,145.02 L456.00,145.65 L456.50,146.28 L457.00,146.91 L457.50,147.53 L458.00,148.15 L458.50,148.77 L459.00,149.38 L459.50,150.00 L460.00,150.61 L460.50,151.22 L461.00,151.82 L461.50,152.43 L462.00,153.03 L462.50,153.63 L463.00,154.23 L463.50,154.83 L464.00,155.42 L464.50,156.02 L465.00,156.61 L465.50,157.21 L466.00,157.80 L466.50,158.38 L467.00,158.97 L467.50,159.55 L468.00,160.13 L468.50,160.70 L469.00,161.27 L469.50,161.84 L470.00,162.40 L470.50,162.96 L471.00,163.50 L471.50,164.05 L472.00,164.59 L472.50,165.12 L473.00,165.66 L473.50,166.19 L474.00,166.71 L474.50,167.23 L475.00,167.75 L475.50,168.27 L476.00,168.78 L476.50,169.29 L477.00,169.80 L477.50,170.31 L478.00,170.82 L478.50,171.34 L479.00,171.86 L479.50,172.37 L480.00,172.88 L480.50,173.39 L481.00,173.89 L481.50,174.38 L482.00,174.87 L482.50,175.34 L483.00,175.80 L483.50,176.24 L484.00,176.67 L484.50,177.09 L485.00,177.50 L485.50,177.91 L486.00,178.31 L486.50,178.71 L487.00,179.11 L487.50,179.50 L488.00,179.89 L488.50,180.27 L489.00,180.65 L489.50,181.02 L490.00,181.39 L490.50,181.75 L491.00,182.12 L491.50,182.47 L492.00,182.82 L492.50,183.17 L493.00,183.51 L493.50,183.85 L494.00,184.18 L494.50,184.50 L495.00,184.82 L495.50,185.13 L496.00,185.44 L496.50,185.74 L497.00,186.04 L497.50,186.33 L498.00,186.61 L498.50,186.89 L499.00,187.16 L499.50,187.43 L500.00,187.71 L500.50,187.98 L501.00,188.24 L501.50,188.51 L502.00,188.77 L502.50,189.03 L503.00,189.29 L503.50,189.54 L504.00,189.80 L504.50,190.05 L505.00,190.29 L505.50,190.54 L506.00,190.78 L506.50,191.01 L507.00,191.25 L507.50,191.48 L508.00,191.71 L508.50,191.93 L509.00,192.15 L509.50,192.37 L510.00,192.58 L510.50,192.79 L511.00,193.00 L511.50,193.20 L512.00,193.40 L512.50,193.59 L513.00,193.78 L513.50,193.96 L514.00,194.14 L514.50,194.32 L515.00,194.49 L515.50,194.65 L516.00,194.81 L516.50,194.97 L517.00,195.12 L517.50,195.27 L518.00,195.41 L518.50,195.56 L519.00,195.70 L519.50,195.84 L520.00,195.98 L520.50,196.12 L521.00,196.26 L521.50,196.39 L522.00,196.53 L522.50,196.66 L523.00,196.79 L523.50,196.91 L524.00,197.04 L524.50,197.16 L525.00,197.28 L525.50,197.39 L526.00,197.50 L526.50,197.62 L527.00,197.72 L527.50,197.83 L528.00,197.93 L528.50,198.03 L529.00,198.12 L529.50,198.21 L530.00,198.30 L530.50,198.39 L531.00,198.47 L531.50,198.55 L532.00,198.62 L532.50,198.69 L533.00,198.76 L533.50,198.82"/>
<path d="M310.00,203.66 L310.50,203.59 L311.00,203.51 L311.50,203.42 L312.00,203.33 L312.50,203.23 L313.00,203.12 L313.50,203.00 L314.00,202.87 L314.50,202.75 L315.00,202.61 L315.50,202.47 L316.00,202.33 L316.50,202.18 L317.00,202.03 L317.50,201.87 L318.00,201.71 L318.50,201.54 L319.00,201.36 L319.50,201.17 L320.00,200.97 L320.50,200.75 L321.00,200.53 L321.50,200.30 L322.00,200.06 L322.50,199.81 L323.00,199.56 L323.50,199.30 L324.00,199.03 L324.50,198.76 L325.00,198.48 L325.50,198.18 L326.00,197.86 L326.50,197.53 L327.00,197.19 L327.50,196.83 L328.00,196.47 L328.50,196.10 L329.00,195.72 L329.50,195.34 L330.00,194.96 L330.50,194.57 L331.00,194.19 L331.50,193.81 L332.00,193.42 L332.50,193.04 L333.00,192.65 L333.50,192.26 L334.00,191.85 L334.50,191.44 L335.00,191.01 L335.50,190.58 L336.00,190.14 L336.50,189.68 L337.00,189.21 L337.50,188.74 L338.00,188.25 L338.50,187.75 L339.00,187.23 L339.50,186.71 L340.00,186.18 L340.50,185.64 L341.00,185.10 L341.50,184.54 L342.00,183.96 L342.50,183.38 L343.00,182.77 L343.50,182.16 L344.00,181.53 L344.50,180.89 L345.00,180.23 L345.50,179.56 L346.00,178.88 L346.50,178.17 L347.00,177.44 L347.50,176.69 L348.00,175.94 L348.50,175.17 L349.00,174.39 L349.50,173.61 L350.00,172.84 L350.50,172.06 L351.00,171.29 L351.50,170.52 L352.00,169.77 L352.50,169.01 L353.00,168.25 L353.50,167.49 L354.00,166.73 L354.50,165.95 L355.00,165.15 L355.50,164.34 L356.00,163.50 L356.50,162.63 L357.00,161.73 L357.50,160.80 L358.00,159.82 L358.50,158.79 L359.00,157.69 L359.50,156.55 L360.00,155.38 L360.50,154.17 L361.00,152.93 L361.50,151.68 L362.00,150.43 L362.50,149.17 L363.00,147.92 L363.50,146.68 L364.00,145.43 L364.50,144.18 L365.00,142.93 L365.50,141.67 L366.00,140.41 L366.50,139.15 L367.00,137.89 L367.50,136.61 L368.00,135.31 L368.50,133.98 L369.00,132.64 L369.50,131.27 L370.00,129.89 L370.50,128.62 L371.00,127.33 L371.50,126.05 L372.00,124.76 L372.50,123.47 L373.00,122.18 L373.50,120.91 L374.00,119.65 L374.50,118.41 L375.00,117.18 L375.50,115.97 L376.00,114.77 L376.50,113.57 L377.00,112.38 L377.50,111.19 L378.00,110.00 L378.50,108.81 L379.00,107.62 L379.50,106.42 L380.00,105.22 L380.50,104.01 L381.00,102.79 L381.50,101.55 L382.00,100.29 L382.50,99.00 L383.00,97.72 L383.50,96.45 L384.00,95.24 L384.50,94.06 L385.00,92.89 L385.50,91.70 L386.00,90.54 L386.50,89.41 L387.00,88.28 L387.50,87.19 L388.00,86.15 L388.50,85.13 L389.00,84.17 L389.50,83.27 L390.00,82.46 L390.50,81.71 L391.00,81.00 L391.50,80.34 L392.00,79.71 L392.50,79.11 L393.00,78.55 L393.50,78.02 L394.00,77.55 L394.50,77.13 L395.00,76.77 L395.50,76.44 L396.00,76.14 L396.50,75.88 L397.00,75.64 L397.50,75.42 L398.00,75.24 L398.50,75.09 L399.00,74.97 L399.50,74.89 L400.00,74.84 L400.50,74.75 L401.00,74.66 L401.50,74.58 L402.00,74.51 L402.50,74.45 L403.00,74.44 L403.50,74.45 L404.00,74.50 L404.50,74.58 L405.00,74.70 L405.50,74.85 L406.00,75.04 L406.50,75.26 L407.00,75.49 L407.50,75.74 L408.00,76.01 L408.50,76.29 L409.00,76.58 L409.50,76.90 L410.00,77.25 L410.50,77.61 L411.00,77.99 L411.50,78.39 L412.00,78.81 L412.50,79.24 L413.00,79.70 L413.50,80.18 L414.00,80.69 L414.50,81.21 L415.00,81.76 L415.50,82.31 L416.00,82.88 L416.50,83.45 L417.00,84.04 L417.50,84.64 L418.00,85.27 L418.50,85.92 L419.00,86.58 L419.50,87.25 L420.00,87.94 L420.50,88.64 L421.00,89.34 L421.50,90.06 L422.00,90.77 L422.50,91.50 L423.00,92.24 L423.50,92.99 L424.00,93.76 L424.50,94.54 L425.00,95.33 L425.50,96.13 L426.00,96.94 L426.50,97.76 L427.00,98.58 L427.50,99.41 L428.00,100.25 L428.50,101.09 L429.00,101.94 L429.50,102.81 L430.00,103.70 L430.50,104.61 L431.00,105.52 L431.50,106.45 L432.00,107.38 L432.50,108.31 L433.00,109.24 L433.50,110.17 L434.00,111.10 L434.50,112.01 L435.00,112.92 L435.50,113.82 L436.00,114.70 L436.50,115.57 L437.00,116.43 L437.50,117.27 L438.00,118.10 L438.50,118.93 L439.00,119.74 L439.50,120.54 L440.00,121.35 L440.50,122.14 L441.00,122.94 L441.50,123.74 L442.00,124.55 L442.50,125.36 L443.00,126.18 L443.50,127.00 L444.00,127.81 L444.50,128.63 L445.00,129.44 L445.50,130.24 L446.00,131.04 L446.50,131.84 L447.00,132.62 L447.50,133.40 L448.00,134.16 L448.50,134.91 L449.00,135.65 L449.50,136.38 L450.00,137.10 L450.50,137.82 L451.00,138.53 L451.50,139.23 L452.00,139.92 L452.50,140.61 L453.00,141.30 L453.50,141.97 L454.00,142.64 L454.50,143.31 L455.00,143.97 L455.50,144.63 L456.00,145.28 L456.50,145.92 L457.00,146.57 L457.50,147.20 L458.00,147.83 L458.50,148.46 L459.00,149.09 L459.50,149.71 L460.00,150.34 L460.50,150.95 L461.00,151.57 L461.50,152.19 L462.00,152.80 L462.50,153.41 L463.00,154.02 L463.50,154.63 L464.00,155.24 L464.50,155.85 L465.00,156.45 L465.50,157.06 L466.00,157.67 L466.50,158.27 L467.00,158.87 L467.50,159.47 L468.00,160.06 L468.50,160.65 L469.00,161.23 L469.50,161.82 L470.00,162.39 L470.50,162.96 L471.00,163.53 L471.50,164.09 L472.00,164.64 L472.50,165.20 L473.00,165.74 L473.50,166.29 L474.00,166.83 L474.50,167.37 L475.00,167.90 L475.50,168.43 L476.00,168.96 L476.50,169.48 L477.00,170.00 L477.50,170.52 L478.00,171.04 L478.50,171.56 L479.00,172.08 L479.50,172.60 L480.00,173.11 L480.50,173.62 L481.00,174.12 L481.50,174.62 L482.00,175.10 L482.50,175.58 L483.00,176.04 L483.50,176.48 L484.00,176.92 L484.50,177.33 L485.00,177.75 L485.50,178.16 L486.00,178.57 L486.50,178.97 L487.00,179.37 L487.50,179.76 L488.00,180.15 L488.50,180.54 L489.00,180.92 L489.50,181.30 L490.00,181.67 L490.50,182.03 L491.00,182.40 L491.50,182.75 L492.00,183.10 L492.50,183.45 L493.00,183.79 L493.50,184.13 L494.00,184.46 L494.50,184.78 L495.00,185.10 L495.50,185.41 L496.00,185.72 L496.50,186.02 L497.00,186.32 L497.50,186.61 L498.00,186.89 L498.50,187.17 L499.00,187.44 L499.50,187.71 L500.00,187.99 L500.50,188.26 L501.00,188.52 L501.50,188.79 L502.00,189.05 L502.50,189.31 L503.00,189.57 L503.50,189.82 L504.00,190.08 L504.50,190.33 L505.00,190.57 L505.50,190.82 L506.00,191.06 L506.50,191.29 L507.00,191.53 L507.50,191.76 L508.00,191.99 L508.50,192.21 L509.00,192.43 L509.50,192.65 L510.00,192.86 L510.50,193.07 L511.00,193.28 L511.50,193.48 L512.00,193.68 L512.50,193.87 L513.00,194.06 L513.50,194.24 L514.00,194.42 L514.50,194.60 L515.00,194.77 L515.50,194.93 L516.00,195.09 L516.50,195.25 L517.00,195.40 L517.50,195.55 L518.00,195.69 L518.50,195.84 L519.00,195.98 L519.50,196.12 L520.00,196.26 L520.50,196.40 L521.00,196.54 L521.50,196.67 L522.00,196.81 L522.50,196.94 L523.00,197.07 L523.50,197.19 L524.00,197.32 L524.50,197.44 L525.00,197.56 L525.50,197.67 L526.00,197.78 L526.50,197.90 L527.00,198.00 L527.50,198.11 L528.00,198.21 L528.50,198.31 L529.00,198.40 L529.50,198.49 L530.00,198.58 L530.50,198.67 L531.00,198.75 L531.50,198.83 L532.00,198.90 L532.50,198.97 L533.00,199.04 L533.50,199.10"/>
<path d="M310.00,203.44 L310.50,203.35 L311.00,203.26 L311.50,203.15 L312.00,203.04 L312.50,202.91 L313.00,202.78 L313.50,202.64 L314.00,202.49 L314.50,202.33 L315.00,202.17 L315.50,202.00 L316.00,201.83 L316.50,201.65 L317.00,201.47 L317.50,201.29 L318.00,201.10 L318.50,200.89 L319.00,200.68 L319.50,200.45 L320.00,200.20 L320.50,199.95 L321.00,199.68 L321.50,199.41 L322.00,199.12 L322.50,198.83 L323.00,198.53 L323.50,198.22 L324.00,197.91 L324.50,197.59 L325.00,197.25 L325.50,196.90 L326.00,196.53 L326.50,196.14 L327.00,195.74 L327.50,195.33 L328.00,194.90 L328.50,194.47 L329.00,194.04 L329.50,193.60 L330.00,193.16 L330.50,192.72 L331.00,192.28 L331.50,191.85 L332.00,191.41 L332.50,190.97 L333.00,190.54 L333.50,190.09 L334.00,189.64 L334.50,189.17 L335.00,188.70 L335.50,188.22 L336.00,187.73 L336.50,187.23 L337.00,186.71 L337.50,186.19 L338.00,185.65 L338.50,185.10 L339.00,184.54 L339.50,183.96 L340.00,183.38 L340.50,182.79 L341.00,182.19 L341.50,181.57 L342.00,180.94 L342.50,180.29 L343.00,179.64 L343.50,178.96 L344.00,178.27 L344.50,177.57 L345.00,176.86 L345.50,176.13 L346.00,175.37 L346.50,174.60 L347.00,173.80 L347.50,172.98 L348.00,172.14 L348.50,171.29 L349.00,170.44 L349.50,169.58 L350.00,168.72 L350.50,167.86 L351.00,167.01 L351.50,166.17 L352.00,165.34 L352.50,164.51 L353.00,163.68 L353.50,162.86 L354.00,162.02 L354.50,161.17 L355.00,160.31 L355.50,159.43 L356.00,158.52 L356.50,157.59 L357.00,156.62 L357.50,155.61 L358.00,154.56 L358.50,153.44 L359.00,152.26 L359.50,151.04 L360.00,149.77 L360.50,148.47 L361.00,147.14 L361.50,145.81 L362.00,144.47 L362.50,143.13 L363.00,141.82 L363.50,140.51 L364.00,139.20 L364.50,137.89 L365.00,136.58 L365.50,135.26 L366.00,133.95 L366.50,132.63 L367.00,131.31 L367.50,129.97 L368.00,128.62 L368.50,127.25 L369.00,125.86 L369.50,124.46 L370.00,123.03 L370.50,121.70 L371.00,120.35 L371.50,119.00 L372.00,117.65 L372.50,116.31 L373.00,114.96 L373.50,113.63 L374.00,112.31 L374.50,111.01 L375.00,109.73 L375.50,108.46 L376.00,107.20 L376.50,105.94 L377.00,104.70 L377.50,103.45 L378.00,102.21 L378.50,100.98 L379.00,99.74 L379.50,98.49 L380.00,97.25 L380.50,96.00 L381.00,94.74 L381.50,93.47 L382.00,92.18 L382.50,90.86 L383.00,89.54 L383.50,88.26 L384.00,87.04 L384.50,85.87 L385.00,84.72 L385.50,83.57 L386.00,82.46 L386.50,81.37 L387.00,80.32 L387.50,79.32 L388.00,78.37 L388.50,77.45 L389.00,76.58 L389.50,75.77 L390.00,75.04 L390.50,74.37 L391.00,73.74 L391.50,73.16 L392.00,72.62 L392.50,72.09 L393.00,71.60 L393.50,71.15 L394.00,70.74 L394.50,70.38 L395.00,70.08 L395.50,69.81 L396.00,69.58 L396.50,69.39 L397.00,69.22 L397.50,69.07 L398.00,68.96 L398.50,68.87 L399.00,68.81 L399.50,68.78 L400.00,68.79 L400.50,68.75 L401.00,68.71 L401.50,68.68 L402.00,68.66 L402.50,68.66 L403.00,68.70 L403.50,68.78 L404.00,68.89 L404.50,69.04 L405.00,69.23 L405.50,69.45 L406.00,69.70 L406.50,69.99 L407.00,70.29 L407.50,70.61 L408.00,70.94 L408.50,71.28 L409.00,71.64 L409.50,72.03 L410.00,72.45 L410.50,72.90 L411.00,73.37 L411.50,73.86 L412.00,74.37 L412.50,74.89 L413.00,75.45 L413.50,76.03 L414.00,76.63 L414.50,77.25 L415.00,77.89 L415.50,78.54 L416.00,79.20 L416.50,79.86 L417.00,80.54 L417.50,81.23 L418.00,81.93 L418.50,82.65 L419.00,83.38 L419.50,84.12 L420.00,84.86 L420.50,85.62 L421.00,86.39 L421.50,87.17 L422.00,87.94 L422.50,88.73 L423.00,89.53 L423.50,90.34 L424.00,91.16 L424.50,92.00 L425.00,92.84 L425.50,93.70 L426.00,94.56 L426.50,95.43 L427.00,96.31 L427.50,97.19 L428.00,98.08 L428.50,98.98 L429.00,99.88 L429.50,100.82 L430.00,101.77 L430.50,102.73 L431.00,103.72 L431.50,104.70 L432.00,105.70 L432.50,106.70 L433.00,107.69 L433.50,108.68 L434.00,109.67 L434.50,110.64 L435.00,111.60 L435.50,112.55 L436.00,113.48 L436.50,114.39 L437.00,115.28 L437.50,116.15 L438.00,117.01 L438.50,117.85 L439.00,118.68 L439.50,119.51 L440.00,120.33 L440.50,121.14 L441.00,121.95 L441.50,122.76 L442.00,123.59 L442.50,124.42 L443.00,125.25 L443.50,126.08 L444.00,126.91 L444.50,127.74 L445.00,128.56 L445.50,129.39 L446.00,130.20 L446.50,131.01 L447.00,131.82 L447.50,132.61 L448.00,133.39 L448.50,134.15 L449.00,134.91 L449.50,135.66 L450.00,136.40 L450.50,137.14 L451.00,137.87 L451.50,138.59 L452.00,139.31 L452.50,140.02 L453.00,140.72 L453.50,141.42 L454.00,142.11 L454.50,142.79 L455.00,143.47 L455.50,144.15 L456.00,144.82 L456.50,145.48 L457.00,146.14 L457.50,146.79 L458.00,147.44 L458.50,148.08 L459.00,148.72 L459.50,149.36 L460.00,149.99 L460.50,150.62 L461.00,151.25 L461.50,151.88 L462.00,152.50 L462.50,153.13 L463.00,153.75 L463.50,154.37 L464.00,154.99 L464.50,155.62 L465.00,156.24 L465.50,156.86 L466.00,157.48 L466.50,158.10 L467.00,158.72 L467.50,159.34 L468.00,159.95 L468.50,160.55 L469.00,161.16 L469.50,161.76 L470.00,162.35 L470.50,162.94 L471.00,163.52 L471.50,164.10 L472.00,164.67 L472.50,165.25 L473.00,165.82 L473.50,166.38 L474.00,166.94 L474.50,167.50 L475.00,168.05 L475.50,168.60 L476.00,169.14 L476.50,169.67 L477.00,170.20 L477.50,170.72 L478.00,171.25 L478.50,171.78 L479.00,172.30 L479.50,172.82 L480.00,173.34 L480.50,173.85 L481.00,174.36 L481.50,174.85 L482.00,175.34 L482.50,175.81 L483.00,176.27 L483.50,176.72 L484.00,177.16 L484.50,177.58 L485.00,178.00 L485.50,178.41 L486.00,178.82 L486.50,179.23 L487.00,179.63 L487.50,180.03 L488.00,180.42 L488.50,180.81 L489.00,181.19 L489.50,181.57 L490.00,181.95 L490.50,182.31 L491.00,182.68 L491.50,183.03 L492.00,183.38 L492.50,183.73 L493.00,184.07 L493.50,184.41 L494.00,184.74 L494.50,185.06 L495.00,185.38 L495.50,185.69 L496.00,186.00 L496.50,186.30 L497.00,186.60 L497.50,186.89 L498.00,187.17 L498.50,187.45 L499.00,187.72 L499.50,187.99 L500.00,188.27 L500.50,188.54 L501.00,188.80 L501.50,189.07 L502.00,189.33 L502.50,189.59 L503.00,189.85 L503.50,190.10 L504.00,190.36 L504.50,190.61 L505.00,190.85 L505.50,191.10 L506.00,191.34 L506.50,191.57 L507.00,191.81 L507.50,192.04 L508.00,192.27 L508.50,192.49 L509.00,192.71 L509.50,192.93 L510.00,193.14 L510.50,193.35 L511.00,193.56 L511.50,193.76 L512.00,193.96 L512.50,194.15 L513.00,194.34 L513.50,194.52 L514.00,194.70 L514.50,194.88 L515.00,195.05 L515.50,195.21 L516.00,195.37 L516.50,195.53 L517.00,195.68 L517.50,195.83 L518.00,195.97 L518.50,196.12 L519.00,196.26 L519.50,196.40 L520.00,196.54 L520.50,196.68 L521.00,196.82 L521.50,196.95 L522.00,197.09 L522.50,197.22 L523.00,197.35 L523.50,197.47 L524.00,197.60 L524.50,197.72 L525.00,197.84 L525.50,197.95 L526.00,198.06 L526.50,198.18 L527.00,198.28 L527.50,198.39 L528.00,198.49 L528.50,198.59 L529.00,198.68 L529.50,198.77 L530.00,198.86 L530.50,198.95 L531.00,199.03 L531.50,199.11 L532.00,199.18 L532.50,199.25 L533.00,199.32 L533.50,199.38"/>
<path d="M310.00,203.20 L310.50,203.10 L311.00,202.98 L311.50,202.86 L312.00,202.72 L312.50,202.57 L313.00,202.41 L313.50,202.25 L314.00,202.07 L314.50,201.89 L315.00,201.69 L315.50,201.50 L316.00,201.29 L316.50,201.08 L317.00,200.87 L317.50,200.65 L318.00,200.42 L318.50,200.18 L319.00,199.93 L319.50,199.66 L320.00,199.37 L320.50,199.07 L321.00,198.76 L321.50,198.44 L322.00,198.10 L322.50,197.76 L323.00,197.40 L323.50,197.04 L324.00,196.68 L324.50,196.30 L325.00,195.91 L325.50,195.50 L326.00,195.07 L326.50,194.62 L327.00,194.16 L327.50,193.68 L328.00,193.20 L328.50,192.70 L329.00,192.21 L329.50,191.70 L330.00,191.20 L330.50,190.70 L331.00,190.20 L331.50,189.71 L332.00,189.21 L332.50,188.72 L333.00,188.23 L333.50,187.72 L334.00,187.22 L334.50,186.70 L335.00,186.18 L335.50,185.65 L336.00,185.11 L336.50,184.55 L337.00,183.99 L337.50,183.41 L338.00,182.82 L338.50,182.21 L339.00,181.60 L339.50,180.97 L340.00,180.33 L340.50,179.67 L341.00,179.01 L341.50,178.33 L342.00,177.64 L342.50,176.93 L343.00,176.21 L343.50,175.47 L344.00,174.72 L344.50,173.96 L345.00,173.17 L345.50,172.38 L346.00,171.55 L346.50,170.70 L347.00,169.82 L347.50,168.92 L348.00,168.00 L348.50,167.07 L349.00,166.13 L349.50,165.18 L350.00,164.23 L350.50,163.29 L351.00,162.35 L351.50,161.42 L352.00,160.51 L352.50,159.60 L353.00,158.70 L353.50,157.79 L354.00,156.89 L354.50,155.97 L355.00,155.03 L355.50,154.07 L356.00,153.09 L356.50,152.08 L357.00,151.04 L357.50,149.95 L358.00,148.81 L358.50,147.61 L359.00,146.34 L359.50,145.02 L360.00,143.65 L360.50,142.25 L361.00,140.83 L361.50,139.40 L362.00,137.97 L362.50,136.55 L363.00,135.15 L363.50,133.77 L364.00,132.40 L364.50,131.02 L365.00,129.64 L365.50,128.27 L366.00,126.89 L366.50,125.51 L367.00,124.13 L367.50,122.74 L368.00,121.33 L368.50,119.91 L369.00,118.47 L369.50,117.02 L370.00,115.55 L370.50,114.21 L371.00,112.87 L371.50,111.52 L372.00,110.17 L372.50,108.82 L373.00,107.48 L373.50,106.16 L374.00,104.84 L374.50,103.55 L375.00,102.27 L375.50,101.01 L376.00,99.76 L376.50,98.52 L377.00,97.29 L377.50,96.06 L378.00,94.84 L378.50,93.62 L379.00,92.40 L379.50,91.18 L380.00,89.96 L380.50,88.74 L381.00,87.52 L381.50,86.29 L382.00,85.03 L382.50,83.74 L383.00,82.47 L383.50,81.24 L384.00,80.09 L384.50,78.99 L385.00,77.91 L385.50,76.81 L386.00,75.76 L386.50,74.75 L387.00,73.78 L387.50,72.87 L388.00,72.01 L388.50,71.19 L389.00,70.42 L389.50,69.70 L390.00,69.06 L390.50,68.47 L391.00,67.93 L391.50,67.44 L392.00,66.98 L392.50,66.54 L393.00,66.13 L393.50,65.75 L394.00,65.41 L394.50,65.12 L395.00,64.88 L395.50,64.68 L396.00,64.52 L396.50,64.40 L397.00,64.30 L397.50,64.22 L398.00,64.17 L398.50,64.15 L399.00,64.16 L399.50,64.19 L400.00,64.25 L400.50,64.25 L401.00,64.25 L401.50,64.25 L402.00,64.27 L402.50,64.31 L403.00,64.39 L403.50,64.52 L404.00,64.68 L404.50,64.88 L405.00,65.12 L405.50,65.39 L406.00,65.70 L406.50,66.03 L407.00,66.38 L407.50,66.75 L408.00,67.13 L408.50,67.52 L409.00,67.94 L409.50,68.38 L410.00,68.86 L410.50,69.37 L411.00,69.90 L411.50,70.46 L412.00,71.03 L412.50,71.64 L413.00,72.26 L413.50,72.92 L414.00,73.59 L414.50,74.28 L415.00,74.99 L415.50,75.71 L416.00,76.44 L416.50,77.17 L417.00,77.91 L417.50,78.67 L418.00,79.43 L418.50,80.21 L419.00,80.98 L419.50,81.77 L420.00,82.56 L420.50,83.37 L421.00,84.18 L421.50,85.00 L422.00,85.82 L422.50,86.65 L423.00,87.49 L423.50,88.35 L424.00,89.21 L424.50,90.09 L425.00,90.98 L425.50,91.87 L426.00,92.77 L426.50,93.68 L427.00,94.60 L427.50,95.53 L428.00,96.46 L428.50,97.39 L429.00,98.34 L429.50,99.32 L430.00,100.32 L430.50,101.33 L431.00,102.36 L431.50,103.40 L432.00,104.44 L432.50,105.49 L433.00,106.53 L433.50,107.57 L434.00,108.60 L434.50,109.61 L435.00,110.61 L435.50,111.60 L436.00,112.57 L436.50,113.51 L437.00,114.42 L437.50,115.32 L438.00,116.19 L438.50,117.05 L439.00,117.89 L439.50,118.73 L440.00,119.56 L440.50,120.38 L441.00,121.21 L441.50,122.03 L442.00,122.87 L442.50,123.71 L443.00,124.55 L443.50,125.39 L444.00,126.23 L444.50,127.07 L445.00,127.91 L445.50,128.75 L446.00,129.58 L446.50,130.40 L447.00,131.21 L447.50,132.02 L448.00,132.81 L448.50,133.59 L449.00,134.36 L449.50,135.13 L450.00,135.89 L450.50,136.64 L451.00,137.38 L451.50,138.12 L452.00,138.85 L452.50,139.58 L453.00,140.30 L453.50,141.01 L454.00,141.72 L454.50,142.42 L455.00,143.12 L455.50,143.81 L456.00,144.49 L456.50,145.17 L457.00,145.84 L457.50,146.50 L458.00,147.16 L458.50,147.81 L459.00,148.46 L459.50,149.11 L460.00,149.75 L460.50,150.40 L461.00,151.03 L461.50,151.67 L462.00,152.30 L462.50,152.94 L463.00,153.57 L463.50,154.21 L464.00,154.84 L464.50,155.47 L465.00,156.11 L465.50,156.74 L466.00,157.38 L466.50,158.01 L467.00,158.64 L467.50,159.27 L468.00,159.90 L468.50,160.52 L469.00,161.14 L469.50,161.75 L470.00,162.36 L470.50,162.96 L471.00,163.55 L471.50,164.15 L472.00,164.74 L472.50,165.33 L473.00,165.91 L473.50,166.49 L474.00,167.07 L474.50,167.64 L475.00,168.21 L475.50,168.76 L476.00,169.32 L476.50,169.86 L477.00,170.40 L477.50,170.93 L478.00,171.46 L478.50,171.99 L479.00,172.52 L479.50,173.05 L480.00,173.57 L480.50,174.08 L481.00,174.59 L481.50,175.08 L482.00,175.57 L482.50,176.05 L483.00,176.51 L483.50,176.96 L484.00,177.40 L484.50,177.83 L485.00,178.25 L485.50,178.66 L486.00,179.08 L486.50,179.49 L487.00,179.89 L487.50,180.29 L488.00,180.69 L488.50,181.08 L489.00,181.47 L489.50,181.85 L490.00,182.23 L490.50,182.59 L491.00,182.96 L491.50,183.31 L492.00,183.66 L492.50,184.01 L493.00,184.35 L493.50,184.69 L494.00,185.02 L494.50,185.34 L495.00,185.66 L495.50,185.97 L496.00,186.28 L496.50,186.58 L497.00,186.88 L497.50,187.17 L498.00,187.45 L498.50,187.73 L499.00,188.00 L499.50,188.27 L500.00,188.55 L500.50,188.82 L501.00,189.08 L501.50,189.35 L502.00,189.61 L502.50,189.87 L503.00,190.13 L503.50,190.38 L504.00,190.64 L504.50,190.89 L505.00,191.13 L505.50,191.38 L506.00,191.62 L506.50,191.85 L507.00,192.09 L507.50,192.32 L508.00,192.55 L508.50,192.77 L509.00,192.99 L509.50,193.21 L510.00,193.42 L510.50,193.63 L511.00,193.84 L511.50,194.04 L512.00,194.24 L512.50,194.43 L513.00,194.62 L513.50,194.80 L514.00,194.98 L514.50,195.16 L515.00,195.33 L515.50,195.49 L516.00,195.65 L516.50,195.81 L517.00,195.96 L517.50,196.11 L518.00,196.25 L518.50,196.40 L519.00,196.54 L519.50,196.68 L520.00,196.82 L520.50,196.96 L521.00,197.10 L521.50,197.23 L522.00,197.37 L522.50,197.50 L523.00,197.63 L523.50,197.75 L524.00,197.88 L524.50,198.00 L525.00,198.12 L525.50,198.23 L526.00,198.34 L526.50,198.46 L527.00,198.56 L527.50,198.67 L528.00,198.77 L528.50,198.87 L529.00,198.96 L529.50,199.05 L530.00,199.14 L530.50,199.23 L531.00,199.31 L531.50,199.39 L532.00,199.46 L532.50,199.53 L533.00,199.60 L533.50,199.66"/>
<path d="M310.00,202.60 L310.50,202.46 L311.00,202.29 L311.50,202.12 L312.00,201.92 L312.50,201.72 L313.00,201.50 L313.50,201.27 L314.00,201.02 L314.50,200.77 L315.00,200.50 L315.50,200.23 L316.00,199.94 L316.50,199.65 L317.00,199.35 L317.50,199.05 L318.00,198.74 L318.50,198.41 L319.00,198.06 L319.50,197.68 L320.00,197.29 L320.50,196.88 L321.00,196.45 L321.50,196.01 L322.00,195.55 L322.50,195.08 L323.00,194.60 L323.50,194.10 L324.00,193.60 L324.50,193.10 L325.00,192.57 L325.50,192.01 L326.00,191.43 L326.50,190.83 L327.00,190.21 L327.50,189.58 L328.00,188.93 L328.50,188.28 L329.00,187.62 L329.50,186.96 L330.00,186.30 L330.50,185.65 L331.00,185.00 L331.50,184.36 L332.00,183.72 L332.50,183.09 L333.00,182.45 L333.50,181.81 L334.00,181.17 L334.50,180.53 L335.00,179.88 L335.50,179.22 L336.00,178.55 L336.50,177.87 L337.00,177.17 L337.50,176.47 L338.00,175.74 L338.50,175.00 L339.00,174.24 L339.50,173.47 L340.00,172.68 L340.50,171.88 L341.00,171.07 L341.50,170.24 L342.00,169.39 L342.50,168.53 L343.00,167.65 L343.50,166.76 L344.00,165.84 L344.50,164.91 L345.00,163.97 L345.50,163.00 L346.00,162.00 L346.50,160.96 L347.00,159.89 L347.50,158.78 L348.00,157.65 L348.50,156.50 L349.00,155.34 L349.50,154.17 L350.00,153.00 L350.50,151.84 L351.00,150.69 L351.50,149.55 L352.00,148.43 L352.50,147.33 L353.00,146.23 L353.50,145.14 L354.00,144.05 L354.50,142.95 L355.00,141.83 L355.50,140.69 L356.00,139.52 L356.50,138.32 L357.00,137.08 L357.50,135.80 L358.00,134.45 L358.50,133.03 L359.00,131.53 L359.50,129.96 L360.00,128.35 L360.50,126.71 L361.00,125.04 L361.50,123.38 L362.00,121.72 L362.50,120.09 L363.00,118.50 L363.50,116.94 L364.00,115.39 L364.50,113.85 L365.00,112.31 L365.50,110.78 L366.00,109.25 L366.50,107.72 L367.00,106.18 L367.50,104.65 L368.00,103.11 L368.50,101.56 L369.00,100.00 L369.50,98.43 L370.00,96.85 L370.50,95.25 L371.00,93.65 L371.50,92.04 L372.00,90.44 L372.50,88.84 L373.00,87.24 L373.50,85.66 L374.00,84.09 L374.50,82.53 L375.00,81.00 L375.50,79.49 L376.00,77.98 L376.50,76.49 L377.00,75.01 L377.50,73.54 L378.00,72.07 L378.50,70.62 L379.00,69.17 L379.50,67.73 L380.00,66.29 L380.50,64.86 L381.00,63.43 L381.50,62.00 L382.00,60.55 L382.50,59.07 L383.00,57.62 L383.50,56.25 L384.00,55.00 L384.50,53.84 L385.00,52.71 L385.50,51.62 L386.00,50.60 L386.50,49.64 L387.00,48.79 L387.50,48.04 L388.00,47.38 L388.50,46.75 L389.00,46.17 L389.50,45.63 L390.00,45.13 L390.50,44.69 L391.00,44.32 L391.50,44.00 L392.00,43.72 L392.50,43.44 L393.00,43.18 L393.50,42.93 L394.00,42.72 L394.50,42.54 L395.00,42.40 L395.50,42.32 L396.00,42.30 L396.50,42.32 L397.00,42.37 L397.50,42.44 L398.00,42.53 L398.50,42.64 L399.00,42.77 L399.50,42.91 L400.00,43.07 L400.50,43.24 L401.00,43.42 L401.50,43.61 L402.00,43.80 L402.50,44.03 L403.00,44.31 L403.50,44.65 L404.00,45.05 L404.50,45.48 L405.00,45.96 L405.50,46.47 L406.00,47.02 L406.50,47.58 L407.00,48.17 L407.50,48.77 L408.00,49.38 L408.50,50.00 L409.00,50.64 L409.50,51.34 L410.00,52.09 L410.50,52.88 L411.00,53.71 L411.50,54.58 L412.00,55.49 L412.50,56.43 L413.00,57.39 L413.50,58.38 L414.00,59.39 L414.50,60.41 L415.00,61.45 L415.50,62.50 L416.00,63.55 L416.50,64.61 L417.00,65.66 L417.50,66.71 L418.00,67.76 L418.50,68.79 L419.00,69.80 L419.50,70.80 L420.00,71.81 L420.50,72.83 L421.00,73.85 L421.50,74.88 L422.00,75.91 L422.50,76.95 L423.00,78.00 L423.50,79.06 L424.00,80.12 L424.50,81.19 L425.00,82.26 L425.50,83.35 L426.00,84.44 L426.50,85.54 L427.00,86.64 L427.50,87.75 L428.00,88.87 L428.50,90.00 L429.00,91.15 L429.50,92.33 L430.00,93.55 L430.50,94.78 L431.00,96.03 L431.50,97.29 L432.00,98.56 L432.50,99.83 L433.00,101.10 L433.50,102.35 L434.00,103.60 L434.50,104.81 L435.00,106.01 L435.50,107.17 L436.00,108.29 L436.50,109.37 L437.00,110.41 L437.50,111.40 L438.00,112.36 L438.50,113.30 L439.00,114.21 L439.50,115.10 L440.00,115.98 L440.50,116.86 L441.00,117.73 L441.50,118.61 L442.00,119.50 L442.50,120.39 L443.00,121.29 L443.50,122.18 L444.00,123.08 L444.50,123.97 L445.00,124.85 L445.50,125.74 L446.00,126.62 L446.50,127.49 L447.00,128.36 L447.50,129.21 L448.00,130.06 L448.50,130.89 L449.00,131.72 L449.50,132.55 L450.00,133.36 L450.50,134.18 L451.00,134.99 L451.50,135.79 L452.00,136.58 L452.50,137.37 L453.00,138.16 L453.50,138.93 L454.00,139.70 L454.50,140.46 L455.00,141.22 L455.50,141.97 L456.00,142.71 L456.50,143.43 L457.00,144.15 L457.50,144.87 L458.00,145.57 L458.50,146.26 L459.00,146.95 L459.50,147.63 L460.00,148.31 L460.50,148.99 L461.00,149.66 L461.50,150.33 L462.00,151.00 L462.50,151.67 L463.00,152.34 L463.50,153.01 L464.00,153.69 L464.50,154.36 L465.00,155.05 L465.50,155.73 L466.00,156.41 L466.50,157.10 L467.00,157.78 L467.50,158.47 L468.00,159.15 L468.50,159.82 L469.00,160.50 L469.50,161.16 L470.00,161.82 L470.50,162.48 L471.00,163.13 L471.50,163.78 L472.00,164.43 L472.50,165.08 L473.00,165.73 L473.50,166.37 L474.00,167.00 L474.50,167.63 L475.00,168.25 L475.50,168.86 L476.00,169.45 L476.50,170.03 L477.00,170.60 L477.50,171.15 L478.00,171.70 L478.50,172.24 L479.00,172.78 L479.50,173.31 L480.00,173.83 L480.50,174.34 L481.00,174.84 L481.50,175.34 L482.00,175.82 L482.50,176.29 L483.00,176.76 L483.50,177.21 L484.00,177.64 L484.50,178.07 L485.00,178.50 L485.50,178.92 L486.00,179.33 L486.50,179.75 L487.00,180.15 L487.50,180.56 L488.00,180.96 L488.50,181.35 L489.00,181.74 L489.50,182.13 L490.00,182.51 L490.50,182.87 L491.00,183.24 L491.50,183.59 L492.00,183.94 L492.50,184.29 L493.00,184.63 L493.50,184.97 L494.00,185.30 L494.50,185.62 L495.00,185.94 L495.50,186.25 L496.00,186.56 L496.50,186.86 L497.00,187.16 L497.50,187.45 L498.00,187.73 L498.50,188.01 L499.00,188.28 L499.50,188.55 L500.00,188.83 L500.50,189.10 L501.00,189.36 L501.50,189.63 L502.00,189.89 L502.50,190.15 L503.00,190.41 L503.50,190.66 L504.00,190.92 L504.50,191.17 L505.00,191.41 L505.50,191.66 L506.00,191.90 L506.50,192.13 L507.00,192.37 L507.50,192.60 L508.00,192.83 L508.50,193.05 L509.00,193.27 L509.50,193.49 L510.00,193.70 L510.50,193.91 L511.00,194.12 L511.50,194.32 L512.00,194.52 L512.50,194.71 L513.00,194.90 L513.50,195.08 L514.00,195.26 L514.50,195.44 L515.00,195.61 L515.50,195.77 L516.00,195.93 L516.50,196.09 L517.00,196.24 L517.50,196.39 L518.00,196.53 L518.50,196.68 L519.00,196.82 L519.50,196.96 L520.00,197.10 L520.50,197.24 L521.00,197.38 L521.50,197.51 L522.00,197.65 L522.50,197.78 L523.00,197.91 L523.50,198.03 L524.00,198.16 L524.50,198.28 L525.00,198.40 L525.50,198.51 L526.00,198.62 L526.50,198.74 L527.00,198.84 L527.50,198.95 L528.00,199.05 L528.50,199.15 L529.00,199.24 L529.50,199.33 L530.00,199.42 L530.50,199.51 L531.00,199.59 L531.50,199.67 L532.00,199.74 L532.50,199.81 L533.00,199.88 L533.50,199.94"/>
</g>
<g fill="none" stroke="#333" stroke-width="1.1">
<line x1="108.8" y1="70.6" x2="122.4" y2="79.1"/>
<line x1="98.2" y1="84.7" x2="118.6" y2="97.6"/>
<line x1="91.8" y1="97.8" x2="116.8" y2="113.5"/>
<line x1="84.6" y1="112.0" x2="113.2" y2="129.7"/>
<line x1="76.7" y1="124.5" x2="111.5" y2="146.5"/>
<line x1="69.8" y1="136.5" x2="111.5" y2="163.7"/>
<line x1="371.4" y1="55.7" x2="392.4" y2="68.5"/>
<line x1="372.2" y1="69.0" x2="388.8" y2="78.8"/>
<line x1="369.0" y1="82.5" x2="385.9" y2="92.6"/>
<line x1="361.2" y1="95.4" x2="381.8" y2="107.6"/>
<line x1="358.8" y1="108.8" x2="381.8" y2="121.8"/>
<line x1="354.7" y1="122.9" x2="379.7" y2="136.5"/>
</g>
<g font-size="10">
<text x="92.9" y="71.2">6.1</text>
<text x="80.3" y="85.8">2.4</text>
<text x="76.1" y="98.6">1.5</text>
<text x="68.2" y="112.2">1.0</text>
<text x="60.9" y="125.2">0.4</text>
<text x="60.9" y="137.0">0</text>
<text x="357.6" y="56.2">6.1</text>
<text x="356.9" y="69.5">2.4</text>
<text x="354.1" y="82.5">1.5</text>
<text x="347.1" y="95.9">1.0</text>
<text x="343.5" y="108.8">0.4</text>
<text x="348.0" y="122.9">0</text>
<text x="42" y="28.7">A</text>
<text x="314.8" y="27.7">B</text>
<text x="106.5" y="34.8">35 mM Mg</text><text x="154.8" y="27.6" font-size="4.2" fill="#999">2+</text>
<text x="192.3" y="32.9">Em = 490 nm</text>
<text x="372.8" y="37.2">35 mM Mg</text><text x="421" y="29" font-size="4.2" fill="#999">2+</text>
<text x="468.6" y="32.2">Ex = 345 nm</text>
<text x="37.9" y="221.5" text-anchor="middle">250</text><text x="93.5" y="221.5" text-anchor="middle">300</text><text x="149.2" y="221.5" text-anchor="middle">350</text><text x="204.8" y="221.5" text-anchor="middle">400</text><text x="260.5" y="221.5" text-anchor="middle">450</text>
<text x="310.1" y="221.6" text-anchor="middle">400</text><text x="354.9" y="221.6" text-anchor="middle">450</text><text x="399.7" y="221.6" text-anchor="middle">500</text><text x="444.4" y="221.6" text-anchor="middle">550</text><text x="489.2" y="221.6" text-anchor="middle">600</text><text x="534.0" y="221.6" text-anchor="middle">650</text>
</g>
<g font-size="13">
<text x="149.5" y="238.7" text-anchor="middle">Wavelength (nm)</text>
<text x="422" y="238.7" text-anchor="middle">Wavelength (nm)</text>
<text transform="translate(28.8,111) rotate(-90)" text-anchor="middle">Fluorescence excitation</text>
<text transform="translate(300.3,111.5) rotate(-90)" text-anchor="middle">Fluorescence emission</text>
</g>
</svg>
</body></html>
